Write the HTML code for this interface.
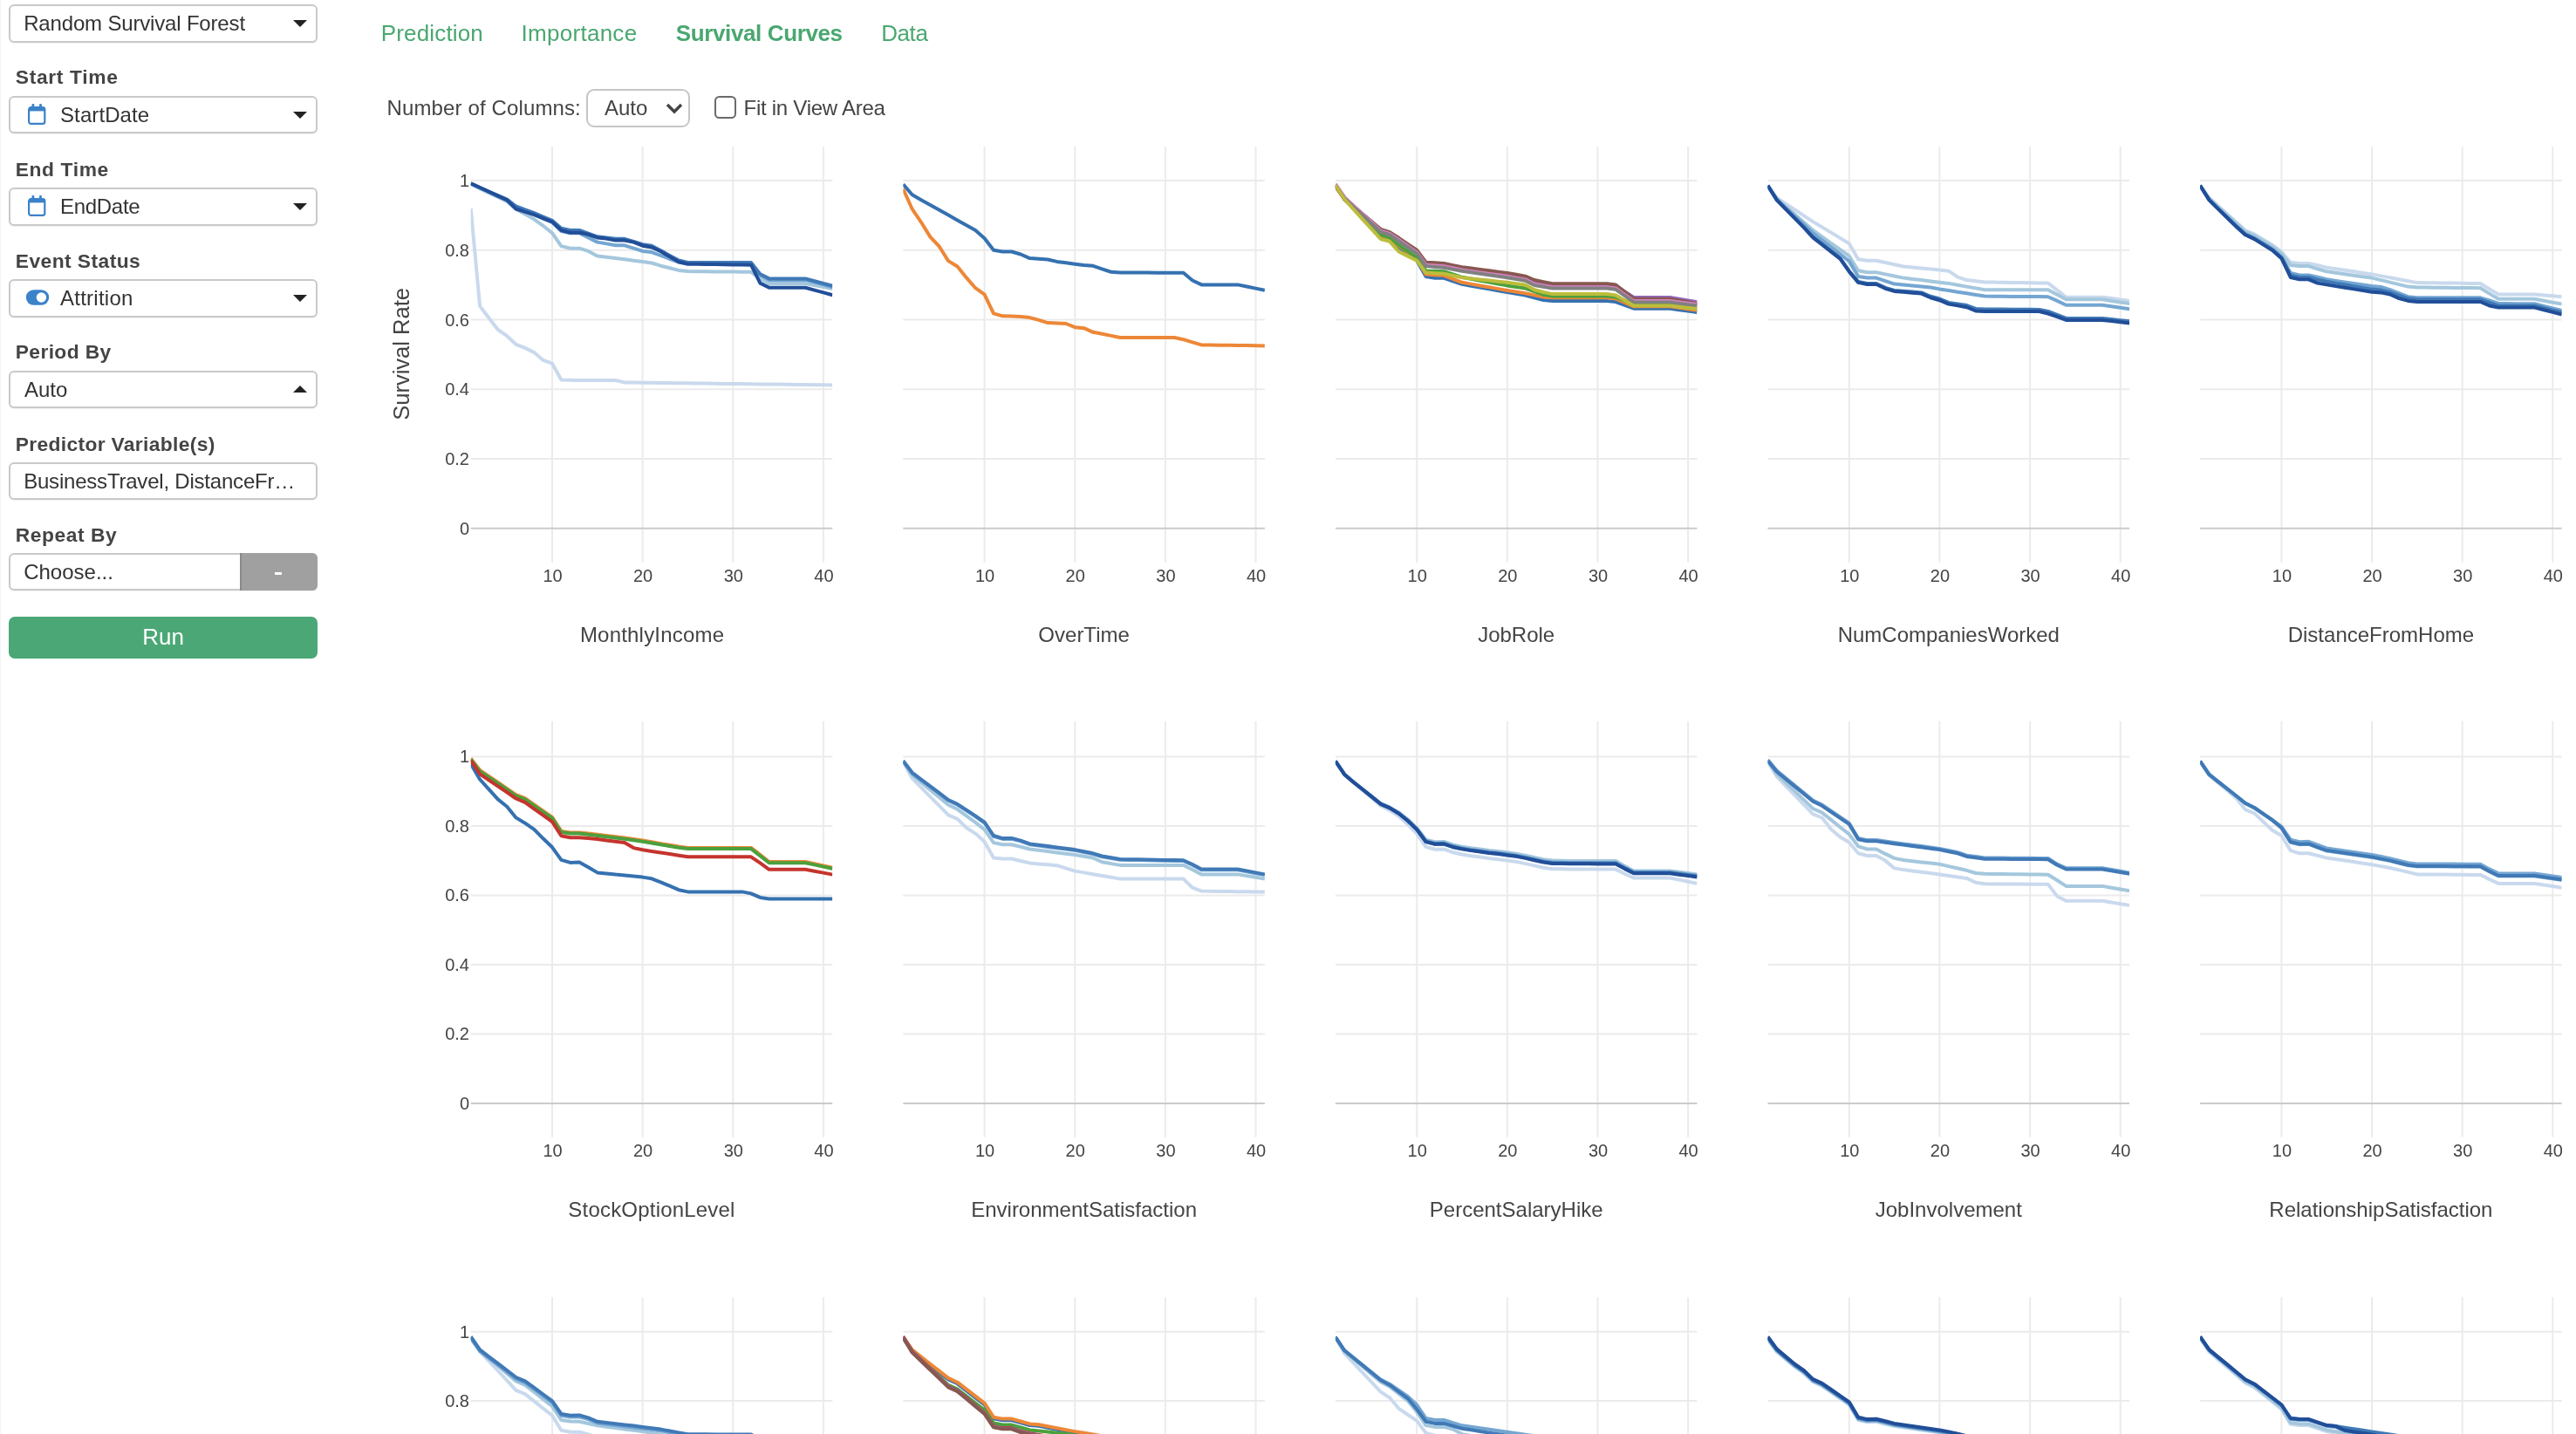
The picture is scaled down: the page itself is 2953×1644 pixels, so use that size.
<!DOCTYPE html>
<html>
<head>
<meta charset="utf-8">
<title>Survival Curves</title>
<style>
html,body{margin:0;padding:0;background:#fff;}
body{width:2953px;height:1644px;overflow:hidden;position:relative;font-family:"Liberation Sans",sans-serif;color:#444;}
.abs{position:absolute;}
#leftline{left:0;top:0;width:1px;height:1644px;background:#f3f3f3;}
.lbl{position:absolute;left:17.75px;font-size:22.8px;font-weight:bold;color:#444;line-height:28px;white-space:nowrap;letter-spacing:0px;}
.sel{position:absolute;left:10px;width:354px;height:43.4px;box-sizing:border-box;border:2px solid #c9c9c9;border-radius:6px;background:#fff;box-shadow:0 1px 1px rgba(0,0,0,0.06);}
.sel .t{position:absolute;top:-0.3px;line-height:39.4px;font-size:24px;color:#333;white-space:nowrap;}
.caret{position:absolute;right:10px;top:16px;width:0;height:0;border-left:8px solid transparent;border-right:8px solid transparent;border-top:8px solid #222;}
.caret.up{border-top:none;border-bottom:8px solid #222;top:15px;}
.tab{position:absolute;top:23px;font-size:26px;line-height:30px;color:#4aa770;white-space:nowrap;}
.ctl{position:absolute;font-size:24px;line-height:28px;color:#444;white-space:nowrap;}
#charts{position:absolute;left:0;top:0;}
#charts text{font-family:"Liberation Sans",sans-serif;fill:#444;}
#charts .tk{font-size:20px;}
#charts .xt{font-size:24px;}
#charts .yt{font-size:25.5px;}
</style>
</head>
<body>
<div id="root" style="position:absolute;left:0;top:0;width:2953px;height:1644px;will-change:transform;">
<div id="leftline" class="abs"></div>

<!-- sidebar -->
<div class="sel" style="top:5.2px;"><span class="t" style="left:15.2px;letter-spacing:-0.17px;">Random Survival Forest</span><span class="caret"></span></div>

<div class="lbl" style="top:74.4px;letter-spacing:0.68px;">Start Time</div>
<div class="sel" style="top:110px;">
  <svg class="abs" style="left:18.7px;top:5.8px;" width="24" height="26" viewBox="0 0 24 26"><rect x="2.1" y="5.2" width="18.2" height="18.7" rx="2.4" fill="none" stroke="#3b82c8" stroke-width="2.2"/><rect x="2.1" y="5.2" width="18.2" height="4.2" fill="#3b82c8"/><rect x="5.5" y="1" width="2.8" height="5" rx="1" fill="#3b82c8"/><rect x="14.1" y="1" width="2.8" height="5" rx="1" fill="#3b82c8"/></svg>
  <span class="t" style="left:57px;letter-spacing:0.1px;">StartDate</span><span class="caret"></span></div>

<div class="lbl" style="top:179.8px;letter-spacing:0.61px;">End Time</div>
<div class="sel" style="top:215.3px;">
  <svg class="abs" style="left:18.7px;top:5.8px;" width="24" height="26" viewBox="0 0 24 26"><rect x="2.1" y="5.2" width="18.2" height="18.7" rx="2.4" fill="none" stroke="#3b82c8" stroke-width="2.2"/><rect x="2.1" y="5.2" width="18.2" height="4.2" fill="#3b82c8"/><rect x="5.5" y="1" width="2.8" height="5" rx="1" fill="#3b82c8"/><rect x="14.1" y="1" width="2.8" height="5" rx="1" fill="#3b82c8"/></svg>
  <span class="t" style="left:57px;letter-spacing:-0.3px;">EndDate</span><span class="caret"></span></div>

<div class="lbl" style="top:284.9px;letter-spacing:0.45px;">Event Status</div>
<div class="sel" style="top:320.4px;">
  <svg class="abs" style="left:17px;top:8.5px;" width="30" height="20" viewBox="0 0 30 20"><rect x="0.8" y="1.2" width="26.4" height="17.6" rx="8.8" fill="#3b82c8"/><circle cx="18.4" cy="10" r="5.7" fill="#fff"/></svg>
  <span class="t" style="left:57px;letter-spacing:0.25px;">Attrition</span><span class="caret"></span></div>

<div class="lbl" style="top:389.3px;letter-spacing:0.38px;">Period By</div>
<div class="sel" style="top:425px;"><span class="t" style="left:16px;">Auto</span><span class="caret up"></span></div>

<div class="lbl" style="top:494.5px;letter-spacing:0.34px;">Predictor Variable(s)</div>
<div class="sel" style="top:530px;"><span class="t" style="left:15.2px;letter-spacing:-0.21px;">BusinessTravel, DistanceFr…</span></div>

<div class="lbl" style="top:598.5px;letter-spacing:0.56px;">Repeat By</div>
<div class="sel" style="top:634.1px;"><span class="t" style="left:15.2px;">Choose...</span>
  <div class="abs" style="right:-2px;top:-2px;width:89px;height:43.4px;box-sizing:border-box;background:#a0a0a0;border-left:2px solid #8a8a8a;border-radius:0 6px 6px 0;"><div class="abs" style="left:38.3px;top:21.8px;width:7.6px;height:2.7px;background:#fff;"></div></div></div>

<div class="abs" style="left:10px;top:707px;width:354px;height:48px;background:#4ba876;border-radius:7px;color:#fff;font-size:26px;line-height:47px;text-align:center;">Run</div>

<!-- tabs -->
<div class="tab" style="left:436.7px;letter-spacing:0.17px;">Prediction</div>
<div class="tab" style="left:597.6px;letter-spacing:0.27px;">Importance</div>
<div class="tab" style="left:774.8px;font-weight:bold;letter-spacing:-0.38px;">Survival Curves</div>
<div class="tab" style="left:1010.2px;letter-spacing:-0.4px;">Data</div>

<!-- controls -->
<div class="ctl" style="left:443.5px;top:110px;letter-spacing:0.13px;">Number of Columns:</div>
<div class="abs" style="left:672.4px;top:102.2px;width:118.7px;height:43.7px;box-sizing:border-box;border:2px solid #c6c6c6;border-radius:9px;background:#fff;">
  <span class="abs" style="left:18.5px;top:0.7px;font-size:24px;line-height:38px;color:#444;">Auto</span>
  <svg class="abs" style="left:87.7px;top:12px;" width="22" height="16" viewBox="0 0 22 16"><path d="M3 4 L11 12 L19 4" fill="none" stroke="#444" stroke-width="3.4"/></svg>
</div>
<div class="abs" style="left:818.7px;top:110.3px;width:25.3px;height:25.6px;box-sizing:border-box;border:2px solid #6a6a6a;border-radius:5.5px;background:#fff;"></div>
<div class="ctl" style="left:852.5px;top:110px;letter-spacing:-0.26px;">Fit in View Area</div>

<svg id="charts" width="2953" height="1644" viewBox="0 0 2953 1644"><defs><clipPath id="c0"><rect x="539.7" y="167.9" width="414.6" height="476.8"/></clipPath><clipPath id="c1"><rect x="1035.3" y="167.9" width="414.6" height="476.8"/></clipPath><clipPath id="c2"><rect x="1530.9" y="167.9" width="414.6" height="476.8"/></clipPath><clipPath id="c3"><rect x="2026.5" y="167.9" width="414.6" height="476.8"/></clipPath><clipPath id="c4"><rect x="2522.1" y="167.9" width="414.6" height="476.8"/></clipPath><clipPath id="c5"><rect x="539.7" y="827.0" width="414.6" height="476.8"/></clipPath><clipPath id="c6"><rect x="1035.3" y="827.0" width="414.6" height="476.8"/></clipPath><clipPath id="c7"><rect x="1530.9" y="827.0" width="414.6" height="476.8"/></clipPath><clipPath id="c8"><rect x="2026.5" y="827.0" width="414.6" height="476.8"/></clipPath><clipPath id="c9"><rect x="2522.1" y="827.0" width="414.6" height="476.8"/></clipPath><clipPath id="c10"><rect x="539.7" y="1487.2" width="414.6" height="476.8"/></clipPath><clipPath id="c11"><rect x="1035.3" y="1487.2" width="414.6" height="476.8"/></clipPath><clipPath id="c12"><rect x="1530.9" y="1487.2" width="414.6" height="476.8"/></clipPath><clipPath id="c13"><rect x="2026.5" y="1487.2" width="414.6" height="476.8"/></clipPath><clipPath id="c14"><rect x="2522.1" y="1487.2" width="414.6" height="476.8"/></clipPath></defs>
<path d="M633.0 167.9V644.7" stroke="#ebebeb" stroke-width="2"/>
<path d="M736.6 167.9V644.7" stroke="#ebebeb" stroke-width="2"/>
<path d="M840.3 167.9V644.7" stroke="#ebebeb" stroke-width="2"/>
<path d="M943.9 167.9V644.7" stroke="#ebebeb" stroke-width="2"/>
<path d="M539.7 207.0H954.3" stroke="#ebebeb" stroke-width="2"/>
<path d="M539.7 286.7H954.3" stroke="#ebebeb" stroke-width="2"/>
<path d="M539.7 366.5H954.3" stroke="#ebebeb" stroke-width="2"/>
<path d="M539.7 446.2H954.3" stroke="#ebebeb" stroke-width="2"/>
<path d="M539.7 525.9H954.3" stroke="#ebebeb" stroke-width="2"/>
<path d="M539.7 605.7H954.3" stroke="#cbcbcb" stroke-width="2"/>
<g clip-path="url(#c0)" fill="none" stroke-width="4" stroke-linejoin="round">
<path d="M539.7 238.9L550.1 350.9L560.4 364.5L570.8 378.0L581.2 385.2L591.5 394.8L601.9 398.9L612.3 404.1L622.6 412.9L633.0 416.7L643.4 435.5L653.7 435.8L664.1 435.9L674.4 435.9L684.8 436.0L695.2 436.0L705.5 436.0L715.9 438.4L726.3 438.6L736.6 438.7L747.0 438.8L757.4 438.9L767.7 439.1L778.1 439.2L788.5 439.3L798.8 439.5L809.2 439.6L819.6 439.7L829.9 439.9L840.3 440.0L850.7 440.1L861.0 440.2L871.4 440.4L881.7 440.5L892.1 440.6L902.5 440.8L912.8 440.9L923.2 441.0L933.6 441.2L943.9 441.3L954.3 441.4" stroke="#c9d9ed"/>
<path d="M539.7 211.0L550.1 216.2L560.4 221.1L570.8 226.0L581.2 230.9L591.5 239.8L601.9 245.6L612.3 251.3L622.6 258.8L633.0 267.2L643.4 282.1L653.7 284.7L664.1 284.7L674.4 287.9L684.8 293.6L695.2 294.7L705.5 295.9L715.9 297.3L726.3 298.7L736.6 300.1L747.0 301.5L757.4 304.7L767.7 307.3L778.1 309.9L788.5 311.1L798.8 311.2L809.2 311.3L819.6 311.4L829.9 311.5L840.3 311.6L850.7 311.7L861.0 311.8L871.4 319.4L881.7 325.0L892.1 325.0L902.5 325.0L912.8 325.0L923.2 325.0L933.6 327.0L943.9 329.0L954.3 331.0" stroke="#a4c7dd"/>
<path d="M539.7 210.6L550.1 215.4L560.4 220.2L570.8 224.9L581.2 229.7L591.5 238.5L601.9 242.1L612.3 245.7L622.6 250.3L633.0 254.8L643.4 265.0L653.7 267.2L664.1 267.2L674.4 272.4L684.8 277.6L695.2 279.4L705.5 281.3L715.9 281.3L726.3 284.6L736.6 287.9L747.0 289.1L757.4 293.0L767.7 296.8L778.1 300.7L788.5 302.0L798.8 302.0L809.2 302.0L819.6 302.0L829.9 302.0L840.3 302.0L850.7 302.0L861.0 302.0L871.4 315.2L881.7 320.9L892.1 320.9L902.5 320.9L912.8 320.9L923.2 320.9L933.6 323.6L943.9 326.4L954.3 329.2" stroke="#74a6d2"/>
<path d="M539.7 210.2L550.1 215.0L560.4 219.5L570.8 224.0L581.2 228.5L591.5 236.5L601.9 240.3L612.3 244.1L622.6 248.5L633.0 252.8L643.4 261.8L653.7 264.0L664.1 264.0L674.4 267.6L684.8 271.3L695.2 272.5L705.5 273.8L715.9 273.8L726.3 277.0L736.6 280.2L747.0 281.7L757.4 287.3L767.7 292.9L778.1 298.5L788.5 301.0L798.8 301.0L809.2 301.0L819.6 301.0L829.9 301.0L840.3 301.0L850.7 301.0L861.0 301.0L871.4 314.2L881.7 319.4L892.1 319.4L902.5 319.4L912.8 319.4L923.2 319.4L933.6 322.2L943.9 325.0L954.3 327.8" stroke="#4079b6"/>
<path d="M539.7 210.2L550.1 215.0L560.4 219.8L570.8 224.6L581.2 229.4L591.5 239.5L601.9 242.8L612.3 246.1L622.6 250.3L633.0 254.4L643.4 264.0L653.7 266.8L664.1 266.8L674.4 268.8L684.8 272.4L695.2 273.6L705.5 275.6L715.9 275.6L726.3 277.6L736.6 281.7L747.0 283.5L757.4 288.3L767.7 294.3L778.1 300.3L788.5 302.7L798.8 302.8L809.2 303.0L819.6 303.1L829.9 303.2L840.3 303.4L850.7 303.5L861.0 303.7L871.4 324.6L881.7 329.8L892.1 329.8L902.5 329.8L912.8 329.8L923.2 329.8L933.6 332.6L943.9 335.4L954.3 338.2" stroke="#214e98"/>
</g>
<text x="633.5" y="667.2" text-anchor="middle" class="tk">10</text>
<text x="737.1" y="667.2" text-anchor="middle" class="tk">20</text>
<text x="840.8" y="667.2" text-anchor="middle" class="tk">30</text>
<text x="944.4" y="667.2" text-anchor="middle" class="tk">40</text>
<text x="538.0" y="214.0" text-anchor="end" class="tk">1</text>
<text x="538.0" y="293.7" text-anchor="end" class="tk">0.8</text>
<text x="538.0" y="373.5" text-anchor="end" class="tk">0.6</text>
<text x="538.0" y="453.2" text-anchor="end" class="tk">0.4</text>
<text x="538.0" y="532.9" text-anchor="end" class="tk">0.2</text>
<text x="538.0" y="612.7" text-anchor="end" class="tk">0</text>
<text transform="translate(468.7 405.9) rotate(-90)" text-anchor="middle" class="yt">Survival Rate</text>
<text x="747.0" y="735.8" text-anchor="middle" class="xt" letter-spacing="0.2" dx="0.6">MonthlyIncome</text>
<path d="M1128.6 167.9V644.7" stroke="#ebebeb" stroke-width="2"/>
<path d="M1232.2 167.9V644.7" stroke="#ebebeb" stroke-width="2"/>
<path d="M1335.9 167.9V644.7" stroke="#ebebeb" stroke-width="2"/>
<path d="M1439.5 167.9V644.7" stroke="#ebebeb" stroke-width="2"/>
<path d="M1035.3 207.0H1449.9" stroke="#ebebeb" stroke-width="2"/>
<path d="M1035.3 286.7H1449.9" stroke="#ebebeb" stroke-width="2"/>
<path d="M1035.3 366.5H1449.9" stroke="#ebebeb" stroke-width="2"/>
<path d="M1035.3 446.2H1449.9" stroke="#ebebeb" stroke-width="2"/>
<path d="M1035.3 525.9H1449.9" stroke="#ebebeb" stroke-width="2"/>
<path d="M1035.3 605.7H1449.9" stroke="#cbcbcb" stroke-width="2"/>
<g clip-path="url(#c1)" fill="none" stroke-width="4" stroke-linejoin="round">
<path d="M1035.3 211.2L1045.7 223.3L1056.0 229.2L1066.4 235.0L1076.8 240.8L1087.1 246.6L1097.5 252.4L1107.9 258.2L1118.2 264.0L1128.6 273.2L1139.0 286.7L1149.3 288.5L1159.7 288.5L1170.0 291.5L1180.4 296.1L1190.8 296.8L1201.1 297.5L1211.5 299.9L1221.9 301.3L1232.2 302.7L1242.6 304.1L1253.0 304.8L1263.3 308.3L1273.7 311.8L1284.1 312.5L1294.4 312.5L1304.8 312.6L1315.2 312.6L1325.5 312.7L1335.9 312.7L1346.3 312.8L1356.6 312.8L1367.0 321.5L1377.3 326.4L1387.7 326.4L1398.1 326.4L1408.4 326.4L1418.8 326.4L1429.2 328.5L1439.5 330.6L1449.9 332.7" stroke="#3571b0"/>
<path d="M1035.3 216.6L1045.7 239.7L1056.0 254.8L1066.4 271.6L1076.8 282.7L1087.1 299.1L1097.5 305.5L1107.9 318.4L1118.2 330.2L1128.6 337.6L1139.0 359.3L1149.3 362.3L1159.7 362.6L1170.0 362.9L1180.4 364.1L1190.8 366.9L1201.1 370.1L1211.5 370.5L1221.9 371.0L1232.2 375.2L1242.6 376.2L1253.0 380.8L1263.3 382.8L1273.7 384.9L1284.1 387.0L1294.4 387.0L1304.8 387.0L1315.2 387.0L1325.5 387.0L1335.9 387.0L1346.3 387.0L1356.6 389.2L1367.0 392.4L1377.3 395.4L1387.7 395.5L1398.1 395.7L1408.4 395.8L1418.8 395.9L1429.2 396.1L1439.5 396.2L1449.9 396.4" stroke="#ed8737"/>
</g>
<text x="1129.1" y="667.2" text-anchor="middle" class="tk">10</text>
<text x="1232.7" y="667.2" text-anchor="middle" class="tk">20</text>
<text x="1336.4" y="667.2" text-anchor="middle" class="tk">30</text>
<text x="1440.0" y="667.2" text-anchor="middle" class="tk">40</text>
<text x="1242.6" y="735.8" text-anchor="middle" class="xt">OverTime</text>
<path d="M1624.2 167.9V644.7" stroke="#ebebeb" stroke-width="2"/>
<path d="M1727.8 167.9V644.7" stroke="#ebebeb" stroke-width="2"/>
<path d="M1831.5 167.9V644.7" stroke="#ebebeb" stroke-width="2"/>
<path d="M1935.1 167.9V644.7" stroke="#ebebeb" stroke-width="2"/>
<path d="M1530.9 207.0H1945.5" stroke="#ebebeb" stroke-width="2"/>
<path d="M1530.9 286.7H1945.5" stroke="#ebebeb" stroke-width="2"/>
<path d="M1530.9 366.5H1945.5" stroke="#ebebeb" stroke-width="2"/>
<path d="M1530.9 446.2H1945.5" stroke="#ebebeb" stroke-width="2"/>
<path d="M1530.9 525.9H1945.5" stroke="#ebebeb" stroke-width="2"/>
<path d="M1530.9 605.7H1945.5" stroke="#cbcbcb" stroke-width="2"/>
<g clip-path="url(#c2)" fill="none" stroke-width="4" stroke-linejoin="round">
<path d="M1530.9 212.3L1541.3 228.1L1551.6 238.8L1562.0 249.5L1572.4 260.1L1582.7 270.8L1593.1 274.4L1603.5 283.5L1613.8 291.1L1624.2 298.7L1634.6 317.0L1644.9 318.8L1655.3 318.8L1665.6 322.4L1676.0 325.9L1686.4 327.7L1696.7 329.5L1707.1 331.3L1717.5 333.2L1727.8 335.0L1738.2 336.8L1748.6 338.6L1758.9 341.3L1769.3 344.1L1779.7 344.9L1790.0 344.9L1800.4 344.9L1810.8 344.9L1821.1 344.9L1831.5 344.9L1841.9 344.9L1852.2 346.1L1862.6 349.9L1872.9 353.7L1883.3 353.7L1893.7 353.7L1904.0 353.7L1914.4 353.7L1924.8 355.2L1935.1 356.6L1945.5 358.1" stroke="#3571b0"/>
<path d="M1530.9 212.3L1541.3 228.1L1551.6 238.5L1562.0 248.9L1572.4 259.2L1582.7 269.6L1593.1 273.2L1603.5 281.9L1613.8 289.5L1624.2 297.1L1634.6 314.6L1644.9 315.2L1655.3 315.8L1665.6 319.8L1676.0 323.8L1686.4 325.6L1696.7 327.5L1707.1 329.3L1717.5 331.1L1727.8 333.0L1738.2 334.6L1748.6 336.2L1758.9 338.4L1769.3 340.6L1779.7 341.3L1790.0 341.3L1800.4 341.3L1810.8 341.3L1821.1 341.3L1831.5 341.3L1841.9 341.3L1852.2 342.5L1862.6 346.9L1872.9 351.3L1883.3 351.3L1893.7 351.3L1904.0 351.3L1914.4 351.3L1924.8 352.8L1935.1 354.2L1945.5 355.7" stroke="#ed8737"/>
<path d="M1530.9 212.3L1541.3 228.1L1551.6 238.3L1562.0 248.5L1572.4 258.6L1582.7 268.8L1593.1 272.4L1603.5 280.8L1613.8 288.1L1624.2 295.5L1634.6 310.5L1644.9 310.8L1655.3 311.2L1665.6 314.5L1676.0 317.8L1686.4 319.7L1696.7 321.7L1707.1 323.6L1717.5 325.5L1727.8 327.4L1738.2 329.0L1748.6 330.6L1758.9 334.2L1769.3 337.8L1779.7 339.4L1790.0 339.4L1800.4 339.4L1810.8 339.4L1821.1 339.4L1831.5 339.4L1841.9 339.4L1852.2 340.6L1862.6 344.9L1872.9 349.3L1883.3 349.3L1893.7 349.3L1904.0 349.3L1914.4 349.3L1924.8 350.7L1935.1 352.0L1945.5 353.3" stroke="#4ba03c"/>
<path d="M1530.9 213.5L1541.3 228.7L1551.6 237.5L1562.0 246.4L1572.4 255.2L1582.7 264.0L1593.1 267.4L1603.5 274.0L1613.8 281.0L1624.2 287.9L1634.6 301.9L1644.9 302.5L1655.3 303.1L1665.6 305.3L1676.0 307.5L1686.4 308.8L1696.7 310.2L1707.1 311.5L1717.5 312.9L1727.8 314.2L1738.2 316.0L1748.6 317.8L1758.9 322.2L1769.3 324.3L1779.7 326.4L1790.0 326.4L1800.4 326.4L1810.8 326.4L1821.1 326.4L1831.5 326.4L1841.9 326.4L1852.2 327.8L1862.6 335.8L1872.9 343.9L1883.3 343.9L1893.7 343.9L1904.0 343.9L1914.4 343.9L1924.8 345.7L1935.1 347.5L1945.5 349.3" stroke="#c5342d"/>
<path d="M1530.9 212.3L1541.3 227.5L1551.6 236.6L1562.0 245.6L1572.4 254.6L1582.7 263.6L1593.1 266.8L1603.5 274.0L1613.8 281.0L1624.2 287.9L1634.6 302.3L1644.9 302.9L1655.3 303.5L1665.6 305.5L1676.0 307.5L1686.4 308.8L1696.7 310.2L1707.1 311.5L1717.5 312.9L1727.8 314.2L1738.2 316.0L1748.6 317.8L1758.9 322.6L1769.3 324.8L1779.7 327.0L1790.0 327.0L1800.4 327.0L1810.8 327.0L1821.1 327.0L1831.5 327.0L1841.9 327.0L1852.2 327.8L1862.6 334.4L1872.9 340.9L1883.3 340.9L1893.7 340.9L1904.0 340.9L1914.4 340.9L1924.8 342.7L1935.1 344.4L1945.5 346.1" stroke="#9467bd"/>
<path d="M1530.9 212.3L1541.3 227.5L1551.6 236.4L1562.0 245.2L1572.4 254.0L1582.7 262.8L1593.1 266.2L1603.5 272.8L1613.8 279.8L1624.2 286.7L1634.6 300.7L1644.9 301.3L1655.3 301.9L1665.6 304.1L1676.0 306.3L1686.4 307.6L1696.7 309.0L1707.1 310.3L1717.5 311.7L1727.8 313.0L1738.2 314.8L1748.6 316.6L1758.9 321.0L1769.3 323.1L1779.7 325.2L1790.0 325.2L1800.4 325.2L1810.8 325.2L1821.1 325.2L1831.5 325.2L1841.9 325.2L1852.2 326.6L1862.6 334.7L1872.9 342.7L1883.3 342.7L1893.7 342.7L1904.0 342.7L1914.4 342.7L1924.8 344.5L1935.1 346.3L1945.5 348.1" stroke="#87584f"/>
<path d="M1530.9 210.9L1541.3 226.1L1551.6 235.8L1562.0 245.4L1572.4 255.0L1582.7 264.6L1593.1 267.8L1603.5 275.0L1613.8 282.1L1624.2 289.3L1634.6 303.7L1644.9 304.5L1655.3 305.3L1665.6 307.3L1676.0 309.4L1686.4 310.9L1696.7 312.4L1707.1 313.9L1717.5 315.3L1727.8 316.8L1738.2 318.6L1748.6 320.4L1758.9 325.6L1769.3 327.4L1779.7 329.2L1790.0 329.2L1800.4 329.2L1810.8 329.2L1821.1 329.2L1831.5 329.2L1841.9 329.2L1852.2 330.4L1862.6 337.8L1872.9 345.1L1883.3 345.1L1893.7 345.1L1904.0 345.1L1914.4 345.1L1924.8 346.5L1935.1 347.8L1945.5 349.1" stroke="#db82c4"/>
<path d="M1530.9 212.3L1541.3 227.5L1551.6 237.1L1562.0 246.8L1572.4 256.4L1582.7 266.0L1593.1 269.2L1603.5 276.4L1613.8 283.5L1624.2 290.7L1634.6 305.1L1644.9 305.9L1655.3 306.7L1665.6 308.7L1676.0 310.8L1686.4 312.3L1696.7 313.8L1707.1 315.3L1717.5 316.7L1727.8 318.2L1738.2 320.0L1748.6 321.8L1758.9 327.0L1769.3 328.8L1779.7 330.6L1790.0 330.6L1800.4 330.6L1810.8 330.6L1821.1 330.6L1831.5 330.6L1841.9 330.6L1852.2 331.8L1862.6 339.2L1872.9 346.5L1883.3 346.5L1893.7 346.5L1904.0 346.5L1914.4 346.5L1924.8 347.9L1935.1 349.2L1945.5 350.5" stroke="#808080"/>
<path d="M1530.9 212.3L1541.3 228.5L1551.6 239.9L1562.0 251.3L1572.4 262.6L1582.7 274.0L1593.1 276.8L1603.5 288.5L1613.8 293.6L1624.2 298.7L1634.6 312.6L1644.9 313.2L1655.3 313.8L1665.6 316.0L1676.0 318.2L1686.4 319.3L1696.7 320.5L1707.1 321.6L1717.5 322.7L1727.8 323.8L1738.2 325.2L1748.6 326.6L1758.9 332.2L1769.3 335.0L1779.7 337.1L1790.0 337.1L1800.4 337.1L1810.8 337.1L1821.1 337.1L1831.5 337.1L1841.9 337.1L1852.2 338.6L1862.6 344.5L1872.9 350.5L1883.3 350.5L1893.7 350.5L1904.0 350.5L1914.4 350.5L1924.8 351.7L1935.1 352.9L1945.5 354.1" stroke="#bcbd3c"/>
</g>
<text x="1624.7" y="667.2" text-anchor="middle" class="tk">10</text>
<text x="1728.3" y="667.2" text-anchor="middle" class="tk">20</text>
<text x="1832.0" y="667.2" text-anchor="middle" class="tk">30</text>
<text x="1935.6" y="667.2" text-anchor="middle" class="tk">40</text>
<text x="1738.2" y="735.8" text-anchor="middle" class="xt">JobRole</text>
<path d="M2119.8 167.9V644.7" stroke="#ebebeb" stroke-width="2"/>
<path d="M2223.4 167.9V644.7" stroke="#ebebeb" stroke-width="2"/>
<path d="M2327.1 167.9V644.7" stroke="#ebebeb" stroke-width="2"/>
<path d="M2430.7 167.9V644.7" stroke="#ebebeb" stroke-width="2"/>
<path d="M2026.5 207.0H2441.1" stroke="#ebebeb" stroke-width="2"/>
<path d="M2026.5 286.7H2441.1" stroke="#ebebeb" stroke-width="2"/>
<path d="M2026.5 366.5H2441.1" stroke="#ebebeb" stroke-width="2"/>
<path d="M2026.5 446.2H2441.1" stroke="#ebebeb" stroke-width="2"/>
<path d="M2026.5 525.9H2441.1" stroke="#ebebeb" stroke-width="2"/>
<path d="M2026.5 605.7H2441.1" stroke="#cbcbcb" stroke-width="2"/>
<g clip-path="url(#c3)" fill="none" stroke-width="4" stroke-linejoin="round">
<path d="M2026.5 212.7L2036.9 226.9L2047.2 233.7L2057.6 240.5L2068.0 247.3L2078.3 254.1L2088.7 260.4L2099.1 266.6L2109.4 272.9L2119.8 279.2L2130.2 297.2L2140.5 298.7L2150.9 298.7L2161.2 301.0L2171.6 303.2L2182.0 305.5L2192.3 306.5L2202.7 307.5L2213.1 308.6L2223.4 309.6L2233.8 310.7L2244.2 317.6L2254.5 321.1L2264.9 322.3L2275.3 323.4L2285.6 323.6L2296.0 323.8L2306.4 323.9L2316.7 324.1L2327.1 324.3L2337.5 324.4L2347.8 324.6L2358.2 332.6L2368.5 340.7L2378.9 340.7L2389.3 340.7L2399.6 340.7L2410.0 340.7L2420.4 342.1L2430.7 343.5L2441.1 344.9" stroke="#c9d9ed"/>
<path d="M2026.5 212.7L2036.9 228.1L2047.2 237.1L2057.6 246.1L2068.0 255.0L2078.3 264.0L2088.7 271.4L2099.1 278.8L2109.4 286.1L2119.8 293.5L2130.2 310.3L2140.5 312.3L2150.9 312.3L2161.2 314.4L2171.6 316.5L2182.0 318.6L2192.3 319.9L2202.7 321.1L2213.1 322.4L2223.4 323.7L2233.8 324.9L2244.2 326.8L2254.5 328.6L2264.9 330.4L2275.3 332.3L2285.6 332.3L2296.0 332.3L2306.4 332.3L2316.7 332.3L2327.1 332.3L2337.5 332.3L2347.8 332.3L2358.2 337.8L2368.5 343.3L2378.9 343.3L2389.3 343.3L2399.6 343.3L2410.0 343.3L2420.4 344.9L2430.7 346.5L2441.1 348.0" stroke="#a4c7dd"/>
<path d="M2026.5 212.7L2036.9 228.5L2047.2 238.2L2057.6 247.9L2068.0 257.5L2078.3 267.2L2088.7 275.3L2099.1 283.3L2109.4 291.4L2119.8 299.5L2130.2 317.0L2140.5 318.6L2150.9 318.6L2161.2 322.1L2171.6 325.6L2182.0 326.6L2192.3 327.6L2202.7 328.6L2213.1 329.5L2223.4 331.4L2233.8 333.0L2244.2 334.7L2254.5 336.3L2264.9 338.0L2275.3 339.6L2285.6 339.7L2296.0 339.8L2306.4 339.9L2316.7 340.0L2327.1 340.0L2337.5 340.1L2347.8 340.2L2358.2 344.9L2368.5 349.7L2378.9 349.7L2389.3 349.7L2399.6 349.7L2410.0 349.7L2420.4 351.2L2430.7 352.8L2441.1 354.3" stroke="#74a6d2"/>
<path d="M2026.5 212.7L2036.9 229.4L2047.2 239.9L2057.6 250.4L2068.0 260.9L2078.3 271.6L2088.7 279.7L2099.1 287.8L2109.4 295.9L2119.8 310.7L2130.2 323.0L2140.5 325.0L2150.9 325.0L2161.2 329.8L2171.6 333.0L2182.0 333.8L2192.3 334.6L2202.7 335.4L2213.1 339.8L2223.4 342.5L2233.8 346.9L2244.2 348.5L2254.5 350.1L2264.9 353.9L2275.3 354.5L2285.6 354.6L2296.0 354.6L2306.4 354.7L2316.7 354.8L2327.1 354.8L2337.5 354.9L2347.8 356.9L2358.2 360.9L2368.5 364.9L2378.9 364.9L2389.3 364.9L2399.6 364.9L2410.0 364.9L2420.4 366.0L2430.7 367.2L2441.1 368.3" stroke="#4079b6"/>
<path d="M2026.5 212.7L2036.9 229.4L2047.2 239.9L2057.6 250.4L2068.0 260.9L2078.3 272.4L2088.7 280.5L2099.1 288.6L2109.4 296.7L2119.8 311.4L2130.2 323.9L2140.5 326.0L2150.9 326.0L2161.2 330.8L2171.6 333.9L2182.0 334.8L2192.3 335.7L2202.7 336.6L2213.1 341.3L2223.4 344.2L2233.8 348.6L2244.2 350.4L2254.5 352.2L2264.9 356.5L2275.3 357.0L2285.6 357.0L2296.0 357.0L2306.4 357.0L2316.7 357.0L2327.1 357.0L2337.5 357.0L2347.8 359.5L2358.2 363.2L2368.5 366.9L2378.9 366.9L2389.3 366.9L2399.6 366.9L2410.0 366.9L2420.4 368.1L2430.7 369.3L2441.1 370.5" stroke="#214e98"/>
</g>
<text x="2120.3" y="667.2" text-anchor="middle" class="tk">10</text>
<text x="2223.9" y="667.2" text-anchor="middle" class="tk">20</text>
<text x="2327.6" y="667.2" text-anchor="middle" class="tk">30</text>
<text x="2431.2" y="667.2" text-anchor="middle" class="tk">40</text>
<text x="2233.8" y="735.8" text-anchor="middle" class="xt">NumCompaniesWorked</text>
<path d="M2615.4 167.9V644.7" stroke="#ebebeb" stroke-width="2"/>
<path d="M2719.0 167.9V644.7" stroke="#ebebeb" stroke-width="2"/>
<path d="M2822.7 167.9V644.7" stroke="#ebebeb" stroke-width="2"/>
<path d="M2926.3 167.9V644.7" stroke="#ebebeb" stroke-width="2"/>
<path d="M2522.1 207.0H2936.7" stroke="#ebebeb" stroke-width="2"/>
<path d="M2522.1 286.7H2936.7" stroke="#ebebeb" stroke-width="2"/>
<path d="M2522.1 366.5H2936.7" stroke="#ebebeb" stroke-width="2"/>
<path d="M2522.1 446.2H2936.7" stroke="#ebebeb" stroke-width="2"/>
<path d="M2522.1 525.9H2936.7" stroke="#ebebeb" stroke-width="2"/>
<path d="M2522.1 605.7H2936.7" stroke="#cbcbcb" stroke-width="2"/>
<g clip-path="url(#c4)" fill="none" stroke-width="4" stroke-linejoin="round">
<path d="M2522.1 212.7L2532.5 226.9L2542.8 236.2L2553.2 245.5L2563.6 254.8L2573.9 264.0L2584.3 268.4L2594.7 274.6L2605.0 280.8L2615.4 288.7L2625.8 300.8L2636.1 301.9L2646.5 301.9L2656.8 304.3L2667.2 306.7L2677.6 308.2L2687.9 309.8L2698.3 311.3L2708.7 312.9L2719.0 314.4L2729.4 316.4L2739.8 318.3L2750.1 320.2L2760.5 322.2L2770.9 324.1L2781.2 324.2L2791.6 324.3L2802.0 324.5L2812.3 324.6L2822.7 324.7L2833.1 324.9L2843.4 325.0L2853.8 331.4L2864.1 337.5L2874.5 337.5L2884.9 337.5L2895.2 337.5L2905.6 337.5L2916.0 338.4L2926.3 339.3L2936.7 340.2" stroke="#c9d9ed"/>
<path d="M2522.1 212.7L2532.5 227.3L2542.8 236.9L2553.2 246.5L2563.6 256.0L2573.9 265.6L2584.3 270.0L2594.7 276.4L2605.0 282.7L2615.4 290.7L2625.8 304.0L2636.1 305.1L2646.5 305.1L2656.8 308.3L2667.2 311.3L2677.6 312.8L2687.9 314.2L2698.3 315.7L2708.7 317.2L2719.0 318.6L2729.4 321.1L2739.8 323.6L2750.1 326.1L2760.5 328.6L2770.9 329.5L2781.2 329.6L2791.6 329.7L2802.0 329.8L2812.3 329.9L2822.7 330.0L2833.1 330.1L2843.4 330.2L2853.8 336.6L2864.1 342.7L2874.5 342.7L2884.9 342.7L2895.2 342.7L2905.6 342.7L2916.0 344.7L2926.3 346.7L2936.7 348.6" stroke="#a4c7dd"/>
<path d="M2522.1 212.7L2532.5 228.9L2542.8 238.9L2553.2 248.9L2563.6 258.8L2573.9 268.0L2584.3 272.8L2594.7 279.2L2605.0 285.5L2615.4 294.3L2625.8 313.0L2636.1 315.4L2646.5 315.4L2656.8 317.8L2667.2 320.3L2677.6 321.9L2687.9 323.4L2698.3 325.0L2708.7 326.5L2719.0 328.1L2729.4 329.0L2739.8 332.2L2750.1 336.2L2760.5 340.2L2770.9 341.3L2781.2 341.3L2791.6 341.3L2802.0 341.3L2812.3 341.3L2822.7 341.3L2833.1 341.3L2843.4 341.3L2853.8 344.5L2864.1 348.0L2874.5 348.1L2884.9 348.2L2895.2 348.2L2905.6 348.3L2916.0 350.9L2926.3 353.4L2936.7 356.0" stroke="#74a6d2"/>
<path d="M2522.1 212.7L2532.5 229.3L2542.8 239.4L2553.2 249.5L2563.6 259.6L2573.9 268.8L2584.3 273.6L2594.7 280.0L2605.0 286.3L2615.4 295.5L2625.8 315.4L2636.1 317.8L2646.5 317.8L2656.8 320.6L2667.2 322.8L2677.6 324.6L2687.9 326.3L2698.3 328.1L2708.7 329.9L2719.0 331.6L2729.4 332.6L2739.8 335.0L2750.1 338.6L2760.5 342.1L2770.9 343.3L2781.2 343.3L2791.6 343.3L2802.0 343.3L2812.3 343.3L2822.7 343.3L2833.1 343.3L2843.4 343.3L2853.8 346.9L2864.1 350.5L2874.5 350.5L2884.9 350.5L2895.2 350.5L2905.6 350.5L2916.0 353.0L2926.3 355.6L2936.7 358.1" stroke="#4079b6"/>
<path d="M2522.1 212.7L2532.5 229.4L2542.8 239.6L2553.2 249.7L2563.6 259.9L2573.9 269.3L2584.3 274.1L2594.7 280.6L2605.0 287.1L2615.4 296.2L2625.8 318.0L2636.1 320.3L2646.5 320.3L2656.8 324.6L2667.2 326.4L2677.6 328.1L2687.9 329.7L2698.3 331.4L2708.7 333.1L2719.0 334.8L2729.4 335.4L2739.8 337.5L2750.1 342.1L2760.5 344.9L2770.9 345.9L2781.2 345.9L2791.6 345.9L2802.0 345.9L2812.3 345.9L2822.7 345.9L2833.1 345.9L2843.4 345.9L2853.8 350.5L2864.1 352.6L2874.5 352.6L2884.9 352.6L2895.2 352.6L2905.6 352.6L2916.0 355.3L2926.3 357.9L2936.7 360.6" stroke="#214e98"/>
</g>
<text x="2615.9" y="667.2" text-anchor="middle" class="tk">10</text>
<text x="2719.5" y="667.2" text-anchor="middle" class="tk">20</text>
<text x="2823.2" y="667.2" text-anchor="middle" class="tk">30</text>
<text x="2926.8" y="667.2" text-anchor="middle" class="tk">40</text>
<text x="2729.4" y="735.8" text-anchor="middle" class="xt">DistanceFromHome</text>
<path d="M633.0 827.0V1303.8" stroke="#ebebeb" stroke-width="2"/>
<path d="M736.6 827.0V1303.8" stroke="#ebebeb" stroke-width="2"/>
<path d="M840.3 827.0V1303.8" stroke="#ebebeb" stroke-width="2"/>
<path d="M943.9 827.0V1303.8" stroke="#ebebeb" stroke-width="2"/>
<path d="M539.7 867.4H954.3" stroke="#ebebeb" stroke-width="2"/>
<path d="M539.7 946.9H954.3" stroke="#ebebeb" stroke-width="2"/>
<path d="M539.7 1026.4H954.3" stroke="#ebebeb" stroke-width="2"/>
<path d="M539.7 1105.9H954.3" stroke="#ebebeb" stroke-width="2"/>
<path d="M539.7 1185.4H954.3" stroke="#ebebeb" stroke-width="2"/>
<path d="M539.7 1264.9H954.3" stroke="#cbcbcb" stroke-width="2"/>
<g clip-path="url(#c5)" fill="none" stroke-width="4" stroke-linejoin="round">
<path d="M539.7 875.7L550.1 893.5L560.4 904.9L570.8 916.4L581.2 924.8L591.5 937.4L601.9 943.7L612.3 950.9L622.6 961.3L633.0 971.3L643.4 985.9L653.7 988.9L664.1 988.4L674.4 994.2L684.8 1000.4L695.2 1001.4L705.5 1002.6L715.9 1003.5L726.3 1004.5L736.6 1005.6L747.0 1007.3L757.4 1011.4L767.7 1015.7L778.1 1020.2L788.5 1022.4L798.8 1022.4L809.2 1022.4L819.6 1022.4L829.9 1022.4L840.3 1022.4L850.7 1022.4L861.0 1024.4L871.4 1028.9L881.7 1030.4L892.1 1030.4L902.5 1030.4L912.8 1030.4L923.2 1030.4L933.6 1030.4L943.9 1030.4L954.3 1030.4" stroke="#3571b0"/>
<path d="M539.7 869.4L550.1 882.9L560.4 889.9L570.8 897.0L581.2 904.1L591.5 911.1L601.9 915.2L612.3 922.4L622.6 929.6L633.0 936.8L643.4 952.9L653.7 954.4L664.1 954.4L674.4 955.6L684.8 956.8L695.2 958.1L705.5 959.3L715.9 960.5L726.3 962.1L736.6 963.6L747.0 965.3L757.4 967.1L767.7 968.8L778.1 970.5L788.5 971.9L798.8 971.9L809.2 971.9L819.6 971.9L829.9 971.9L840.3 971.9L850.7 971.9L861.0 971.9L871.4 979.9L881.7 988.0L892.1 988.0L902.5 988.0L912.8 988.0L923.2 988.0L933.6 990.2L943.9 992.4L954.3 994.6" stroke="#ed8737"/>
<path d="M539.7 870.6L550.1 884.1L560.4 891.1L570.8 898.2L581.2 905.2L591.5 912.3L601.9 916.4L612.3 923.6L622.6 930.8L633.0 937.9L643.4 954.0L653.7 955.6L664.1 955.6L674.4 956.8L684.8 958.0L695.2 959.3L705.5 960.5L715.9 961.7L726.3 963.3L736.6 964.8L747.0 966.5L757.4 968.3L767.7 970.0L778.1 971.7L788.5 973.1L798.8 973.1L809.2 973.1L819.6 973.1L829.9 973.1L840.3 973.1L850.7 973.1L861.0 973.1L871.4 981.1L881.7 989.2L892.1 989.2L902.5 989.2L912.8 989.2L923.2 989.2L933.6 991.4L943.9 993.6L954.3 995.8" stroke="#4ba03c"/>
<path d="M539.7 871.8L550.1 887.3L560.4 894.3L570.8 901.4L581.2 908.4L591.5 915.5L601.9 919.9L612.3 927.3L622.6 934.7L633.0 942.1L643.4 958.2L653.7 960.3L664.1 960.3L674.4 961.1L684.8 962.0L695.2 963.4L705.5 964.7L715.9 966.1L726.3 972.1L736.6 974.3L747.0 975.9L757.4 977.5L767.7 979.1L778.1 980.7L788.5 982.3L798.8 982.3L809.2 982.3L819.6 982.3L829.9 982.3L840.3 982.3L850.7 982.3L861.0 982.3L871.4 989.4L881.7 996.8L892.1 996.8L902.5 996.8L912.8 996.8L923.2 996.8L933.6 998.7L943.9 1000.6L954.3 1002.6" stroke="#c5342d"/>
</g>
<text x="633.5" y="1326.3" text-anchor="middle" class="tk">10</text>
<text x="737.1" y="1326.3" text-anchor="middle" class="tk">20</text>
<text x="840.8" y="1326.3" text-anchor="middle" class="tk">30</text>
<text x="944.4" y="1326.3" text-anchor="middle" class="tk">40</text>
<text x="538.0" y="874.4" text-anchor="end" class="tk">1</text>
<text x="538.0" y="953.9" text-anchor="end" class="tk">0.8</text>
<text x="538.0" y="1033.4" text-anchor="end" class="tk">0.6</text>
<text x="538.0" y="1112.9" text-anchor="end" class="tk">0.4</text>
<text x="538.0" y="1192.4" text-anchor="end" class="tk">0.2</text>
<text x="538.0" y="1271.9" text-anchor="end" class="tk">0</text>
<text x="747.0" y="1394.9" text-anchor="middle" class="xt" letter-spacing="0.2">StockOptionLevel</text>
<path d="M1128.6 827.0V1303.8" stroke="#ebebeb" stroke-width="2"/>
<path d="M1232.2 827.0V1303.8" stroke="#ebebeb" stroke-width="2"/>
<path d="M1335.9 827.0V1303.8" stroke="#ebebeb" stroke-width="2"/>
<path d="M1439.5 827.0V1303.8" stroke="#ebebeb" stroke-width="2"/>
<path d="M1035.3 867.4H1449.9" stroke="#ebebeb" stroke-width="2"/>
<path d="M1035.3 946.9H1449.9" stroke="#ebebeb" stroke-width="2"/>
<path d="M1035.3 1026.4H1449.9" stroke="#ebebeb" stroke-width="2"/>
<path d="M1035.3 1105.9H1449.9" stroke="#ebebeb" stroke-width="2"/>
<path d="M1035.3 1185.4H1449.9" stroke="#ebebeb" stroke-width="2"/>
<path d="M1035.3 1264.9H1449.9" stroke="#cbcbcb" stroke-width="2"/>
<g clip-path="url(#c6)" fill="none" stroke-width="4" stroke-linejoin="round">
<path d="M1035.3 873.3L1045.7 892.4L1056.0 902.9L1066.4 913.4L1076.8 923.9L1087.1 934.3L1097.5 938.9L1107.9 949.0L1118.2 955.6L1128.6 965.1L1139.0 983.5L1149.3 984.5L1159.7 984.5L1170.0 987.0L1180.4 989.4L1190.8 990.4L1201.1 991.3L1211.5 992.2L1221.9 995.4L1232.2 998.6L1242.6 1000.4L1253.0 1002.2L1263.3 1004.0L1273.7 1005.8L1284.1 1007.6L1294.4 1007.6L1304.8 1007.6L1315.2 1007.6L1325.5 1007.6L1335.9 1007.6L1346.3 1007.6L1356.6 1007.6L1367.0 1017.7L1377.3 1021.6L1387.7 1021.8L1398.1 1021.9L1408.4 1022.1L1418.8 1022.2L1429.2 1022.3L1439.5 1022.5L1449.9 1022.6" stroke="#c9d9ed"/>
<path d="M1035.3 872.5L1045.7 888.5L1056.0 897.0L1066.4 905.6L1076.8 914.2L1087.1 922.8L1097.5 927.8L1107.9 935.4L1118.2 942.9L1128.6 951.1L1139.0 966.1L1149.3 968.2L1159.7 968.2L1170.0 970.7L1180.4 973.5L1190.8 974.8L1201.1 976.1L1211.5 977.4L1221.9 978.7L1232.2 980.0L1242.6 981.7L1253.0 983.5L1263.3 988.2L1273.7 990.1L1284.1 991.9L1294.4 991.9L1304.8 991.9L1315.2 991.9L1325.5 991.9L1335.9 991.9L1346.3 991.9L1356.6 991.9L1367.0 997.0L1377.3 1002.4L1387.7 1002.4L1398.1 1002.4L1408.4 1002.4L1418.8 1002.4L1429.2 1004.1L1439.5 1005.8L1449.9 1007.6" stroke="#a4c7dd"/>
<path d="M1035.3 872.9L1045.7 886.6L1056.0 894.4L1066.4 902.2L1076.8 910.0L1087.1 917.8L1097.5 922.6L1107.9 929.4L1118.2 936.2L1128.6 943.5L1139.0 958.8L1149.3 961.9L1159.7 961.7L1170.0 964.4L1180.4 968.2L1190.8 969.5L1201.1 970.9L1211.5 972.2L1221.9 973.5L1232.2 974.9L1242.6 977.0L1253.0 979.1L1263.3 982.3L1273.7 984.0L1284.1 985.8L1294.4 986.0L1304.8 986.1L1315.2 986.3L1325.5 986.5L1335.9 986.7L1346.3 986.9L1356.6 987.0L1367.0 991.8L1377.3 997.3L1387.7 997.3L1398.1 997.3L1408.4 997.3L1418.8 997.3L1429.2 999.2L1439.5 1001.2L1449.9 1003.1" stroke="#74a6d2"/>
<path d="M1035.3 872.2L1045.7 885.8L1056.0 893.6L1066.4 901.4L1076.8 909.2L1087.1 917.0L1097.5 921.8L1107.9 928.6L1118.2 935.4L1128.6 942.7L1139.0 958.0L1149.3 961.1L1159.7 960.9L1170.0 963.6L1180.4 967.4L1190.8 968.7L1201.1 970.1L1211.5 971.4L1221.9 972.7L1232.2 974.1L1242.6 976.2L1253.0 978.3L1263.3 981.5L1273.7 983.2L1284.1 985.0L1294.4 985.2L1304.8 985.3L1315.2 985.5L1325.5 985.7L1335.9 985.9L1346.3 986.1L1356.6 986.3L1367.0 991.0L1377.3 996.5L1387.7 996.5L1398.1 996.5L1408.4 996.5L1418.8 996.5L1429.2 998.4L1439.5 1000.4L1449.9 1002.4" stroke="#4079b6"/>
</g>
<text x="1129.1" y="1326.3" text-anchor="middle" class="tk">10</text>
<text x="1232.7" y="1326.3" text-anchor="middle" class="tk">20</text>
<text x="1336.4" y="1326.3" text-anchor="middle" class="tk">30</text>
<text x="1440.0" y="1326.3" text-anchor="middle" class="tk">40</text>
<text x="1242.6" y="1394.9" text-anchor="middle" class="xt">EnvironmentSatisfaction</text>
<path d="M1624.2 827.0V1303.8" stroke="#ebebeb" stroke-width="2"/>
<path d="M1727.8 827.0V1303.8" stroke="#ebebeb" stroke-width="2"/>
<path d="M1831.5 827.0V1303.8" stroke="#ebebeb" stroke-width="2"/>
<path d="M1935.1 827.0V1303.8" stroke="#ebebeb" stroke-width="2"/>
<path d="M1530.9 867.4H1945.5" stroke="#ebebeb" stroke-width="2"/>
<path d="M1530.9 946.9H1945.5" stroke="#ebebeb" stroke-width="2"/>
<path d="M1530.9 1026.4H1945.5" stroke="#ebebeb" stroke-width="2"/>
<path d="M1530.9 1105.9H1945.5" stroke="#ebebeb" stroke-width="2"/>
<path d="M1530.9 1185.4H1945.5" stroke="#ebebeb" stroke-width="2"/>
<path d="M1530.9 1264.9H1945.5" stroke="#cbcbcb" stroke-width="2"/>
<g clip-path="url(#c7)" fill="none" stroke-width="4" stroke-linejoin="round">
<path d="M1530.9 872.6L1541.3 888.1L1551.6 897.1L1562.0 905.9L1572.4 914.8L1582.7 923.8L1593.1 928.9L1603.5 935.8L1613.8 944.9L1624.2 955.8L1634.6 970.9L1644.9 973.7L1655.3 973.5L1665.6 977.2L1676.0 979.5L1686.4 981.2L1696.7 982.5L1707.1 984.0L1717.5 985.2L1727.8 986.5L1738.2 987.9L1748.6 990.1L1758.9 992.4L1769.3 994.7L1779.7 996.2L1790.0 996.3L1800.4 996.4L1810.8 996.5L1821.1 996.5L1831.5 996.6L1841.9 996.6L1852.2 996.6L1862.6 1001.8L1872.9 1006.5L1883.3 1006.5L1893.7 1006.5L1904.0 1006.5L1914.4 1006.5L1924.8 1008.6L1935.1 1010.8L1945.5 1012.9" stroke="#c9d9ed"/>
<path d="M1530.9 872.6L1541.3 887.8L1551.6 896.5L1562.0 904.7L1572.4 912.9L1582.7 921.1L1593.1 925.4L1603.5 931.4L1613.8 939.5L1624.2 949.1L1634.6 962.6L1644.9 965.2L1655.3 965.0L1665.6 968.5L1676.0 970.7L1686.4 972.3L1696.7 973.5L1707.1 975.0L1717.5 976.1L1727.8 977.3L1738.2 978.8L1748.6 980.8L1758.9 983.0L1769.3 985.2L1779.7 986.6L1790.0 986.8L1800.4 986.9L1810.8 986.9L1821.1 987.0L1831.5 987.0L1841.9 987.0L1852.2 987.0L1862.6 993.0L1872.9 998.6L1883.3 998.6L1893.7 998.6L1904.0 998.6L1914.4 998.6L1924.8 999.8L1935.1 1001.1L1945.5 1002.4" stroke="#a4c7dd"/>
<path d="M1530.9 872.6L1541.3 887.9L1551.6 896.6L1562.0 904.9L1572.4 913.2L1582.7 921.4L1593.1 926.0L1603.5 932.1L1613.8 940.4L1624.2 950.2L1634.6 964.0L1644.9 966.7L1655.3 966.5L1665.6 970.0L1676.0 972.3L1686.4 973.9L1696.7 975.2L1707.1 976.7L1717.5 977.8L1727.8 979.1L1738.2 980.6L1748.6 982.6L1758.9 984.9L1769.3 987.2L1779.7 988.6L1790.0 988.8L1800.4 988.9L1810.8 988.9L1821.1 989.0L1831.5 989.0L1841.9 989.0L1852.2 989.0L1862.6 994.6L1872.9 999.8L1883.3 999.8L1893.7 999.8L1904.0 999.8L1914.4 999.8L1924.8 1001.1L1935.1 1002.4L1945.5 1003.7" stroke="#74a6d2"/>
<path d="M1530.9 872.6L1541.3 887.9L1551.6 896.7L1562.0 905.0L1572.4 913.3L1582.7 921.6L1593.1 926.2L1603.5 932.5L1613.8 940.8L1624.2 950.8L1634.6 964.8L1644.9 967.5L1655.3 967.3L1665.6 970.8L1676.0 973.1L1686.4 974.7L1696.7 976.0L1707.1 977.5L1717.5 978.6L1727.8 979.9L1738.2 981.4L1748.6 983.4L1758.9 985.7L1769.3 988.0L1779.7 989.4L1790.0 989.6L1800.4 989.7L1810.8 989.7L1821.1 989.8L1831.5 989.8L1841.9 989.8L1852.2 989.8L1862.6 995.4L1872.9 1000.6L1883.3 1000.6L1893.7 1000.6L1904.0 1000.6L1914.4 1000.6L1924.8 1001.9L1935.1 1003.2L1945.5 1004.5" stroke="#4079b6"/>
<path d="M1530.9 872.6L1541.3 887.9L1551.6 896.7L1562.0 905.0L1572.4 913.4L1582.7 921.8L1593.1 926.4L1603.5 932.7L1613.8 941.0L1624.2 951.1L1634.6 965.1L1644.9 967.8L1655.3 967.6L1665.6 971.2L1676.0 973.4L1686.4 975.1L1696.7 976.4L1707.1 977.9L1717.5 979.1L1727.8 980.4L1738.2 981.8L1748.6 983.9L1758.9 986.3L1769.3 988.5L1779.7 990.0L1790.0 990.1L1800.4 990.2L1810.8 990.3L1821.1 990.3L1831.5 990.4L1841.9 990.4L1852.2 990.4L1862.6 996.1L1872.9 1001.3L1883.3 1001.3L1893.7 1001.3L1904.0 1001.3L1914.4 1001.3L1924.8 1002.7L1935.1 1004.1L1945.5 1005.5" stroke="#214e98"/>
</g>
<text x="1624.7" y="1326.3" text-anchor="middle" class="tk">10</text>
<text x="1728.3" y="1326.3" text-anchor="middle" class="tk">20</text>
<text x="1832.0" y="1326.3" text-anchor="middle" class="tk">30</text>
<text x="1935.6" y="1326.3" text-anchor="middle" class="tk">40</text>
<text x="1738.2" y="1394.9" text-anchor="middle" class="xt">PercentSalaryHike</text>
<path d="M2119.8 827.0V1303.8" stroke="#ebebeb" stroke-width="2"/>
<path d="M2223.4 827.0V1303.8" stroke="#ebebeb" stroke-width="2"/>
<path d="M2327.1 827.0V1303.8" stroke="#ebebeb" stroke-width="2"/>
<path d="M2430.7 827.0V1303.8" stroke="#ebebeb" stroke-width="2"/>
<path d="M2026.5 867.4H2441.1" stroke="#ebebeb" stroke-width="2"/>
<path d="M2026.5 946.9H2441.1" stroke="#ebebeb" stroke-width="2"/>
<path d="M2026.5 1026.4H2441.1" stroke="#ebebeb" stroke-width="2"/>
<path d="M2026.5 1105.9H2441.1" stroke="#ebebeb" stroke-width="2"/>
<path d="M2026.5 1185.4H2441.1" stroke="#ebebeb" stroke-width="2"/>
<path d="M2026.5 1264.9H2441.1" stroke="#cbcbcb" stroke-width="2"/>
<g clip-path="url(#c8)" fill="none" stroke-width="4" stroke-linejoin="round">
<path d="M2026.5 873.3L2036.9 890.4L2047.2 901.2L2057.6 911.9L2068.0 922.6L2078.3 933.4L2088.7 937.5L2099.1 950.7L2109.4 959.5L2119.8 965.7L2130.2 978.3L2140.5 981.0L2150.9 981.0L2161.2 986.6L2171.6 995.4L2182.0 997.1L2192.3 998.4L2202.7 999.7L2213.1 1001.0L2223.4 1002.4L2233.8 1003.9L2244.2 1005.4L2254.5 1006.9L2264.9 1011.8L2275.3 1013.3L2285.6 1013.4L2296.0 1013.4L2306.4 1013.5L2316.7 1013.6L2327.1 1013.7L2337.5 1013.8L2347.8 1013.8L2358.2 1027.4L2368.5 1032.8L2378.9 1032.8L2389.3 1032.8L2399.6 1032.8L2410.0 1032.8L2420.4 1034.5L2430.7 1036.2L2441.1 1037.9" stroke="#c9d9ed"/>
<path d="M2026.5 872.5L2036.9 887.3L2047.2 897.2L2057.6 907.1L2068.0 917.1L2078.3 927.0L2088.7 931.6L2099.1 939.9L2109.4 948.2L2119.8 956.4L2130.2 970.3L2140.5 973.5L2150.9 973.5L2161.2 978.9L2171.6 983.9L2182.0 986.0L2192.3 987.2L2202.7 988.4L2213.1 989.6L2223.4 990.8L2233.8 993.1L2244.2 995.5L2254.5 997.8L2264.9 1001.0L2275.3 1001.8L2285.6 1001.9L2296.0 1002.0L2306.4 1002.2L2316.7 1002.3L2327.1 1002.5L2337.5 1002.6L2347.8 1002.7L2358.2 1009.3L2368.5 1015.9L2378.9 1015.9L2389.3 1015.9L2399.6 1015.9L2410.0 1015.9L2420.4 1017.7L2430.7 1019.5L2441.1 1021.2" stroke="#a4c7dd"/>
<path d="M2026.5 871.0L2036.9 883.6L2047.2 892.0L2057.6 900.5L2068.0 909.0L2078.3 917.5L2088.7 922.6L2099.1 929.7L2109.4 936.7L2119.8 943.7L2130.2 961.0L2140.5 963.1L2150.9 963.1L2161.2 964.5L2171.6 966.0L2182.0 967.4L2192.3 968.7L2202.7 970.1L2213.1 971.5L2223.4 972.9L2233.8 975.0L2244.2 977.1L2254.5 980.7L2264.9 982.1L2275.3 983.5L2285.6 983.5L2296.0 983.6L2306.4 983.7L2316.7 983.8L2327.1 983.8L2337.5 983.9L2347.8 984.0L2358.2 990.6L2368.5 995.3L2378.9 995.3L2389.3 995.3L2399.6 995.3L2410.0 995.3L2420.4 997.0L2430.7 998.8L2441.1 1000.6" stroke="#74a6d2"/>
<path d="M2026.5 872.2L2036.9 884.8L2047.2 893.2L2057.6 901.7L2068.0 910.2L2078.3 918.7L2088.7 923.8L2099.1 930.9L2109.4 937.9L2119.8 944.9L2130.2 962.2L2140.5 964.3L2150.9 964.3L2161.2 965.7L2171.6 967.2L2182.0 968.6L2192.3 969.9L2202.7 971.3L2213.1 972.7L2223.4 974.1L2233.8 976.2L2244.2 978.3L2254.5 981.9L2264.9 983.3L2275.3 984.7L2285.6 984.7L2296.0 984.8L2306.4 984.9L2316.7 985.0L2327.1 985.0L2337.5 985.1L2347.8 985.2L2358.2 991.8L2368.5 996.5L2378.9 996.5L2389.3 996.5L2399.6 996.5L2410.0 996.5L2420.4 998.2L2430.7 1000.0L2441.1 1001.8" stroke="#4079b6"/>
</g>
<text x="2120.3" y="1326.3" text-anchor="middle" class="tk">10</text>
<text x="2223.9" y="1326.3" text-anchor="middle" class="tk">20</text>
<text x="2327.6" y="1326.3" text-anchor="middle" class="tk">30</text>
<text x="2431.2" y="1326.3" text-anchor="middle" class="tk">40</text>
<text x="2233.8" y="1394.9" text-anchor="middle" class="xt">JobInvolvement</text>
<path d="M2615.4 827.0V1303.8" stroke="#ebebeb" stroke-width="2"/>
<path d="M2719.0 827.0V1303.8" stroke="#ebebeb" stroke-width="2"/>
<path d="M2822.7 827.0V1303.8" stroke="#ebebeb" stroke-width="2"/>
<path d="M2926.3 827.0V1303.8" stroke="#ebebeb" stroke-width="2"/>
<path d="M2522.1 867.4H2936.7" stroke="#ebebeb" stroke-width="2"/>
<path d="M2522.1 946.9H2936.7" stroke="#ebebeb" stroke-width="2"/>
<path d="M2522.1 1026.4H2936.7" stroke="#ebebeb" stroke-width="2"/>
<path d="M2522.1 1105.9H2936.7" stroke="#ebebeb" stroke-width="2"/>
<path d="M2522.1 1185.4H2936.7" stroke="#ebebeb" stroke-width="2"/>
<path d="M2522.1 1264.9H2936.7" stroke="#cbcbcb" stroke-width="2"/>
<g clip-path="url(#c9)" fill="none" stroke-width="4" stroke-linejoin="round">
<path d="M2522.1 872.6L2532.5 888.8L2542.8 897.6L2553.2 906.3L2563.6 915.1L2573.9 928.2L2584.3 932.4L2594.7 942.2L2605.0 952.1L2615.4 958.0L2625.8 975.1L2636.1 978.3L2646.5 978.3L2656.8 980.9L2667.2 983.5L2677.6 985.0L2687.9 986.6L2698.3 988.1L2708.7 989.7L2719.0 991.3L2729.4 993.1L2739.8 995.0L2750.1 997.4L2760.5 999.9L2770.9 1002.4L2781.2 1002.4L2791.6 1002.5L2802.0 1002.6L2812.3 1002.7L2822.7 1002.8L2833.1 1002.9L2843.4 1002.9L2853.8 1008.1L2864.1 1012.9L2874.5 1012.9L2884.9 1012.9L2895.2 1012.9L2905.6 1012.9L2916.0 1014.5L2926.3 1016.1L2936.7 1017.7" stroke="#c9d9ed"/>
<path d="M2522.1 873.0L2532.5 888.3L2542.8 896.5L2553.2 904.7L2563.6 912.9L2573.9 921.1L2584.3 926.4L2594.7 933.5L2605.0 940.6L2615.4 949.4L2625.8 965.7L2636.1 968.2L2646.5 967.8L2656.8 971.7L2667.2 975.5L2677.6 977.0L2687.9 978.5L2698.3 979.9L2708.7 981.4L2719.0 982.9L2729.4 985.0L2739.8 987.0L2750.1 989.6L2760.5 992.2L2770.9 993.4L2781.2 993.5L2791.6 993.5L2802.0 993.5L2812.3 993.6L2822.7 993.6L2833.1 993.7L2843.4 993.7L2853.8 999.4L2864.1 1004.4L2874.5 1004.4L2884.9 1004.4L2895.2 1004.4L2905.6 1004.4L2916.0 1005.9L2926.3 1007.4L2936.7 1008.9" stroke="#a4c7dd"/>
<path d="M2522.1 872.6L2532.5 887.9L2542.8 896.1L2553.2 904.3L2563.6 912.5L2573.9 920.7L2584.3 926.0L2594.7 933.1L2605.0 940.2L2615.4 947.7L2625.8 962.7L2636.1 965.2L2646.5 964.8L2656.8 968.7L2667.2 972.5L2677.6 974.0L2687.9 975.5L2698.3 976.9L2708.7 978.4L2719.0 979.9L2729.4 982.0L2739.8 984.1L2750.1 986.6L2760.5 989.2L2770.9 990.4L2781.2 990.5L2791.6 990.5L2802.0 990.6L2812.3 990.6L2822.7 990.7L2833.1 990.7L2843.4 990.7L2853.8 996.4L2864.1 1001.4L2874.5 1001.4L2884.9 1001.4L2895.2 1001.4L2905.6 1001.4L2916.0 1002.9L2926.3 1004.4L2936.7 1005.9" stroke="#74a6d2"/>
<path d="M2522.1 872.6L2532.5 887.9L2542.8 896.1L2553.2 904.3L2563.6 912.5L2573.9 920.7L2584.3 926.0L2594.7 933.1L2605.0 940.2L2615.4 949.0L2625.8 965.3L2636.1 967.8L2646.5 967.4L2656.8 971.3L2667.2 975.1L2677.6 976.6L2687.9 978.1L2698.3 979.5L2708.7 981.0L2719.0 982.5L2729.4 984.6L2739.8 986.6L2750.1 989.2L2760.5 991.8L2770.9 993.0L2781.2 993.1L2791.6 993.1L2802.0 993.1L2812.3 993.2L2822.7 993.2L2833.1 993.3L2843.4 993.3L2853.8 999.0L2864.1 1004.0L2874.5 1004.0L2884.9 1004.0L2895.2 1004.0L2905.6 1004.0L2916.0 1005.5L2926.3 1007.0L2936.7 1008.5" stroke="#4079b6"/>
</g>
<text x="2615.9" y="1326.3" text-anchor="middle" class="tk">10</text>
<text x="2719.5" y="1326.3" text-anchor="middle" class="tk">20</text>
<text x="2823.2" y="1326.3" text-anchor="middle" class="tk">30</text>
<text x="2926.8" y="1326.3" text-anchor="middle" class="tk">40</text>
<text x="2729.4" y="1394.9" text-anchor="middle" class="xt">RelationshipSatisfaction</text>
<path d="M633.0 1487.2V1964.0" stroke="#ebebeb" stroke-width="2"/>
<path d="M736.6 1487.2V1964.0" stroke="#ebebeb" stroke-width="2"/>
<path d="M840.3 1487.2V1964.0" stroke="#ebebeb" stroke-width="2"/>
<path d="M943.9 1487.2V1964.0" stroke="#ebebeb" stroke-width="2"/>
<path d="M539.7 1526.8H954.3" stroke="#ebebeb" stroke-width="2"/>
<path d="M539.7 1606.1H954.3" stroke="#ebebeb" stroke-width="2"/>
<path d="M539.7 1685.5H954.3" stroke="#ebebeb" stroke-width="2"/>
<path d="M539.7 1764.8H954.3" stroke="#ebebeb" stroke-width="2"/>
<path d="M539.7 1844.2H954.3" stroke="#ebebeb" stroke-width="2"/>
<path d="M539.7 1923.5H954.3" stroke="#cbcbcb" stroke-width="2"/>
<g clip-path="url(#c10)" fill="none" stroke-width="4" stroke-linejoin="round">
<path d="M539.7 1532.5L550.1 1549.2L560.4 1560.3L570.8 1571.5L581.2 1582.6L591.5 1593.8L601.9 1598.2L612.3 1606.4L622.6 1614.6L633.0 1622.8L643.4 1639.8L653.7 1641.8L664.1 1641.8L674.4 1644.5L684.8 1647.8L695.2 1649.2L705.5 1650.7L715.9 1652.1L726.3 1653.6L736.6 1655.0L747.0 1656.5L757.4 1657.9L767.7 1659.4L778.1 1660.8L788.5 1662.3L798.8 1663.7L809.2 1665.2L819.6 1666.6L829.9 1668.1L840.3 1669.5L850.7 1671.0L861.0 1672.4L871.4 1673.9L881.7 1675.3L892.1 1676.8L902.5 1678.2L912.8 1679.7L923.2 1681.1L933.6 1682.6L943.9 1684.0L954.3 1685.5" stroke="#c9d9ed"/>
<path d="M539.7 1532.5L550.1 1548.2L560.4 1557.0L570.8 1565.8L581.2 1574.7L591.5 1583.5L601.9 1587.9L612.3 1596.0L622.6 1604.1L633.0 1612.3L643.4 1627.9L653.7 1629.5L664.1 1629.7L674.4 1632.0L684.8 1634.3L695.2 1635.7L705.5 1637.0L715.9 1638.4L726.3 1639.8L736.6 1641.1L747.0 1642.9L757.4 1644.6L767.7 1646.3L778.1 1648.0L788.5 1649.8L798.8 1650.8L809.2 1651.7L819.6 1652.7L829.9 1653.7L840.3 1654.7L850.7 1655.7L861.0 1656.7L871.4 1657.7L881.7 1658.7L892.1 1659.7L902.5 1660.7L912.8 1661.7L923.2 1662.7L933.6 1663.6L943.9 1664.6L954.3 1665.6" stroke="#a4c7dd"/>
<path d="M539.7 1534.3L550.1 1549.2L560.4 1557.1L570.8 1565.0L581.2 1572.9L591.5 1580.8L601.9 1585.1L612.3 1592.7L622.6 1600.3L633.0 1607.9L643.4 1622.8L653.7 1624.6L664.1 1624.2L674.4 1627.1L684.8 1631.5L695.2 1632.8L705.5 1634.0L715.9 1635.2L726.3 1636.4L736.6 1637.7L747.0 1639.0L757.4 1640.4L767.7 1642.3L778.1 1644.1L788.5 1646.0L798.8 1646.0L809.2 1646.1L819.6 1646.2L829.9 1646.2L840.3 1646.3L850.7 1646.3L861.0 1646.4L871.4 1651.7L881.7 1657.1L892.1 1658.0L902.5 1658.9L912.8 1659.8L923.2 1660.7L933.6 1661.6L943.9 1662.5L954.3 1663.4" stroke="#74a6d2"/>
<path d="M539.7 1532.5L550.1 1547.4L560.4 1555.3L570.8 1563.2L581.2 1571.1L591.5 1579.0L601.9 1583.3L612.3 1590.9L622.6 1598.5L633.0 1606.1L643.4 1621.0L653.7 1622.8L664.1 1622.4L674.4 1625.4L684.8 1629.8L695.2 1631.0L705.5 1632.2L715.9 1633.4L726.3 1634.6L736.6 1635.9L747.0 1637.3L757.4 1638.6L767.7 1640.5L778.1 1642.4L788.5 1644.2L798.8 1644.3L809.2 1644.3L819.6 1644.4L829.9 1644.4L840.3 1644.5L850.7 1644.5L861.0 1644.6L871.4 1650.0L881.7 1655.3L892.1 1656.2L902.5 1657.1L912.8 1658.0L923.2 1658.9L933.6 1659.8L943.9 1660.8L954.3 1661.7" stroke="#4079b6"/>
</g>
<text x="633.5" y="1986.5" text-anchor="middle" class="tk">10</text>
<text x="737.1" y="1986.5" text-anchor="middle" class="tk">20</text>
<text x="840.8" y="1986.5" text-anchor="middle" class="tk">30</text>
<text x="944.4" y="1986.5" text-anchor="middle" class="tk">40</text>
<text x="538.0" y="1533.8" text-anchor="end" class="tk">1</text>
<text x="538.0" y="1613.1" text-anchor="end" class="tk">0.8</text>
<text x="538.0" y="1692.5" text-anchor="end" class="tk">0.6</text>
<text x="538.0" y="1771.8" text-anchor="end" class="tk">0.4</text>
<text x="538.0" y="1851.2" text-anchor="end" class="tk">0.2</text>
<text x="538.0" y="1930.5" text-anchor="end" class="tk">0</text>
<path d="M1128.6 1487.2V1964.0" stroke="#ebebeb" stroke-width="2"/>
<path d="M1232.2 1487.2V1964.0" stroke="#ebebeb" stroke-width="2"/>
<path d="M1335.9 1487.2V1964.0" stroke="#ebebeb" stroke-width="2"/>
<path d="M1439.5 1487.2V1964.0" stroke="#ebebeb" stroke-width="2"/>
<path d="M1035.3 1526.8H1449.9" stroke="#ebebeb" stroke-width="2"/>
<path d="M1035.3 1606.1H1449.9" stroke="#ebebeb" stroke-width="2"/>
<path d="M1035.3 1685.5H1449.9" stroke="#ebebeb" stroke-width="2"/>
<path d="M1035.3 1764.8H1449.9" stroke="#ebebeb" stroke-width="2"/>
<path d="M1035.3 1844.2H1449.9" stroke="#ebebeb" stroke-width="2"/>
<path d="M1035.3 1923.5H1449.9" stroke="#cbcbcb" stroke-width="2"/>
<g clip-path="url(#c11)" fill="none" stroke-width="4" stroke-linejoin="round">
<path d="M1035.3 1534.1L1045.7 1549.0L1056.0 1557.1L1066.4 1565.2L1076.8 1573.4L1087.1 1581.5L1097.5 1586.3L1107.9 1594.3L1118.2 1602.3L1128.6 1610.3L1139.0 1626.4L1149.3 1628.2L1159.7 1628.2L1170.0 1631.1L1180.4 1634.0L1190.8 1634.8L1201.1 1636.8L1211.5 1638.8L1221.9 1640.8L1232.2 1642.7L1242.6 1644.4L1253.0 1646.1L1263.3 1647.8L1273.7 1649.6L1284.1 1651.3L1294.4 1652.3L1304.8 1653.3L1315.2 1654.3L1325.5 1655.3L1335.9 1656.3L1346.3 1657.3L1356.6 1658.3L1367.0 1659.3L1377.3 1660.3L1387.7 1661.3L1398.1 1662.3L1408.4 1663.2L1418.8 1664.2L1429.2 1665.2L1439.5 1666.2L1449.9 1667.2" stroke="#3571b0"/>
<path d="M1035.3 1532.5L1045.7 1547.4L1056.0 1555.5L1066.4 1563.7L1076.8 1571.8L1087.1 1579.9L1097.5 1584.7L1107.9 1592.7L1118.2 1600.7L1128.6 1608.7L1139.0 1624.8L1149.3 1626.6L1159.7 1626.6L1170.0 1629.5L1180.4 1632.4L1190.8 1633.3L1201.1 1635.2L1211.5 1637.2L1221.9 1639.2L1232.2 1641.1L1242.6 1642.8L1253.0 1644.5L1263.3 1646.2L1273.7 1648.0L1284.1 1649.8L1294.4 1650.8L1304.8 1651.7L1315.2 1652.7L1325.5 1653.7L1335.9 1654.7L1346.3 1655.7L1356.6 1656.7L1367.0 1657.7L1377.3 1658.7L1387.7 1659.7L1398.1 1660.7L1408.4 1661.7L1418.8 1662.7L1429.2 1663.6L1439.5 1664.6L1449.9 1665.6" stroke="#ed8737"/>
<path d="M1035.3 1532.5L1045.7 1549.4L1056.0 1559.0L1066.4 1568.6L1076.8 1578.2L1087.1 1587.9L1097.5 1592.6L1107.9 1600.6L1118.2 1608.6L1128.6 1616.6L1139.0 1631.5L1149.3 1633.5L1159.7 1633.6L1170.0 1636.5L1180.4 1639.4L1190.8 1640.5L1201.1 1641.6L1211.5 1642.7L1221.9 1643.8L1232.2 1645.5L1242.6 1647.1L1253.0 1648.8L1263.3 1650.4L1273.7 1652.1L1284.1 1653.7L1294.4 1654.7L1304.8 1655.7L1315.2 1656.7L1325.5 1657.7L1335.9 1658.7L1346.3 1659.7L1356.6 1660.7L1367.0 1661.7L1377.3 1662.7L1387.7 1663.6L1398.1 1664.6L1408.4 1665.6L1418.8 1666.6L1429.2 1667.6L1439.5 1668.6L1449.9 1669.6" stroke="#4ba03c"/>
<path d="M1035.3 1532.3L1045.7 1549.4L1056.0 1559.3L1066.4 1569.3L1076.8 1579.2L1087.1 1589.2L1097.5 1594.0L1107.9 1602.6L1118.2 1611.2L1128.6 1619.8L1139.0 1635.2L1149.3 1637.1L1159.7 1637.1L1170.0 1640.8L1180.4 1643.3L1190.8 1645.0L1201.1 1646.7L1211.5 1648.4L1221.9 1650.2L1232.2 1651.9L1242.6 1653.6L1253.0 1655.3L1263.3 1657.0L1273.7 1658.8L1284.1 1660.5L1294.4 1661.5L1304.8 1662.5L1315.2 1663.4L1325.5 1664.4L1335.9 1665.4L1346.3 1666.4L1356.6 1667.4L1367.0 1668.4L1377.3 1669.4L1387.7 1670.4L1398.1 1671.4L1408.4 1672.4L1418.8 1673.4L1429.2 1674.4L1439.5 1675.4L1449.9 1676.3" stroke="#c5342d"/>
<path d="M1035.3 1532.9L1045.7 1550.0L1056.0 1559.9L1066.4 1569.9L1076.8 1579.8L1087.1 1589.8L1097.5 1594.6L1107.9 1603.2L1118.2 1611.8L1128.6 1620.4L1139.0 1635.8L1149.3 1637.7L1159.7 1637.7L1170.0 1641.4L1180.4 1643.9L1190.8 1645.6L1201.1 1647.3L1211.5 1649.0L1221.9 1650.8L1232.2 1652.5L1242.6 1654.2L1253.0 1655.9L1263.3 1657.6L1273.7 1659.3L1284.1 1661.1L1294.4 1662.1L1304.8 1663.1L1315.2 1664.0L1325.5 1665.0L1335.9 1666.0L1346.3 1667.0L1356.6 1668.0L1367.0 1669.0L1377.3 1670.0L1387.7 1671.0L1398.1 1672.0L1408.4 1673.0L1418.8 1674.0L1429.2 1675.0L1439.5 1675.9L1449.9 1676.9" stroke="#9467bd"/>
<path d="M1035.3 1533.5L1045.7 1550.6L1056.0 1560.5L1066.4 1570.5L1076.8 1580.4L1087.1 1590.4L1097.5 1595.2L1107.9 1603.8L1118.2 1612.4L1128.6 1621.0L1139.0 1636.4L1149.3 1638.3L1159.7 1638.3L1170.0 1642.0L1180.4 1644.5L1190.8 1646.2L1201.1 1647.9L1211.5 1649.6L1221.9 1651.4L1232.2 1653.1L1242.6 1654.8L1253.0 1656.5L1263.3 1658.2L1273.7 1659.9L1284.1 1661.7L1294.4 1662.7L1304.8 1663.6L1315.2 1664.6L1325.5 1665.6L1335.9 1666.6L1346.3 1667.6L1356.6 1668.6L1367.0 1669.6L1377.3 1670.6L1387.7 1671.6L1398.1 1672.6L1408.4 1673.6L1418.8 1674.6L1429.2 1675.5L1439.5 1676.5L1449.9 1677.5" stroke="#87584f"/>
</g>
<text x="1129.1" y="1986.5" text-anchor="middle" class="tk">10</text>
<text x="1232.7" y="1986.5" text-anchor="middle" class="tk">20</text>
<text x="1336.4" y="1986.5" text-anchor="middle" class="tk">30</text>
<text x="1440.0" y="1986.5" text-anchor="middle" class="tk">40</text>
<path d="M1624.2 1487.2V1964.0" stroke="#ebebeb" stroke-width="2"/>
<path d="M1727.8 1487.2V1964.0" stroke="#ebebeb" stroke-width="2"/>
<path d="M1831.5 1487.2V1964.0" stroke="#ebebeb" stroke-width="2"/>
<path d="M1935.1 1487.2V1964.0" stroke="#ebebeb" stroke-width="2"/>
<path d="M1530.9 1526.8H1945.5" stroke="#ebebeb" stroke-width="2"/>
<path d="M1530.9 1606.1H1945.5" stroke="#ebebeb" stroke-width="2"/>
<path d="M1530.9 1685.5H1945.5" stroke="#ebebeb" stroke-width="2"/>
<path d="M1530.9 1764.8H1945.5" stroke="#ebebeb" stroke-width="2"/>
<path d="M1530.9 1844.2H1945.5" stroke="#ebebeb" stroke-width="2"/>
<path d="M1530.9 1923.5H1945.5" stroke="#cbcbcb" stroke-width="2"/>
<g clip-path="url(#c12)" fill="none" stroke-width="4" stroke-linejoin="round">
<path d="M1530.9 1532.9L1541.3 1551.7L1551.6 1562.7L1562.0 1573.7L1572.4 1584.6L1582.7 1595.6L1593.1 1602.5L1603.5 1614.8L1613.8 1621.9L1624.2 1628.9L1634.6 1642.9L1644.9 1645.8L1655.3 1647.8L1665.6 1649.9L1676.0 1651.9L1686.4 1654.0L1696.7 1656.1L1707.1 1658.1L1717.5 1660.2L1727.8 1662.2L1738.2 1664.3L1748.6 1666.3L1758.9 1668.4L1769.3 1670.4L1779.7 1672.5L1790.0 1674.5L1800.4 1676.6L1810.8 1678.6L1821.1 1680.7L1831.5 1682.7L1841.9 1684.8L1852.2 1686.8L1862.6 1688.9L1872.9 1690.9L1883.3 1693.0L1893.7 1695.0L1904.0 1697.1L1914.4 1699.2L1924.8 1701.2L1935.1 1703.3L1945.5 1705.3" stroke="#c9d9ed"/>
<path d="M1530.9 1532.9L1541.3 1549.4L1551.6 1558.1L1562.0 1566.8L1572.4 1575.6L1582.7 1584.3L1593.1 1589.8L1603.5 1598.0L1613.8 1606.1L1624.2 1618.8L1634.6 1634.1L1644.9 1635.9L1655.3 1635.9L1665.6 1638.6L1676.0 1644.1L1686.4 1645.9L1696.7 1647.6L1707.1 1649.4L1717.5 1651.1L1727.8 1652.9L1738.2 1654.6L1748.6 1656.4L1758.9 1658.2L1769.3 1659.9L1779.7 1661.7L1790.0 1662.7L1800.4 1663.6L1810.8 1664.6L1821.1 1665.6L1831.5 1666.6L1841.9 1667.6L1852.2 1668.6L1862.6 1669.6L1872.9 1670.6L1883.3 1671.6L1893.7 1672.6L1904.0 1673.6L1914.4 1674.6L1924.8 1675.5L1935.1 1676.5L1945.5 1677.5" stroke="#a4c7dd"/>
<path d="M1530.9 1532.9L1541.3 1548.3L1551.6 1556.6L1562.0 1564.9L1572.4 1573.2L1582.7 1581.5L1593.1 1586.7L1603.5 1593.8L1613.8 1601.0L1624.2 1610.5L1634.6 1626.0L1644.9 1628.0L1655.3 1628.0L1665.6 1631.1L1676.0 1634.3L1686.4 1635.8L1696.7 1637.3L1707.1 1638.8L1717.5 1640.3L1727.8 1641.8L1738.2 1643.3L1748.6 1644.7L1758.9 1646.2L1769.3 1647.0L1779.7 1647.8L1790.0 1648.6L1800.4 1649.5L1810.8 1650.4L1821.1 1651.2L1831.5 1652.1L1841.9 1653.0L1852.2 1653.8L1862.6 1654.7L1872.9 1655.6L1883.3 1656.5L1893.7 1657.3L1904.0 1658.2L1914.4 1659.1L1924.8 1659.9L1935.1 1660.8L1945.5 1661.7" stroke="#74a6d2"/>
<path d="M1530.9 1532.9L1541.3 1548.3L1551.6 1556.8L1562.0 1565.3L1572.4 1573.8L1582.7 1582.3L1593.1 1587.9L1603.5 1595.6L1613.8 1603.3L1624.2 1615.8L1634.6 1629.8L1644.9 1631.9L1655.3 1631.9L1665.6 1634.8L1676.0 1637.7L1686.4 1639.3L1696.7 1640.9L1707.1 1642.6L1717.5 1644.2L1727.8 1645.8L1738.2 1647.4L1748.6 1649.0L1758.9 1650.6L1769.3 1652.1L1779.7 1653.7L1790.0 1654.7L1800.4 1655.7L1810.8 1656.7L1821.1 1657.7L1831.5 1658.7L1841.9 1659.7L1852.2 1660.7L1862.6 1661.7L1872.9 1662.7L1883.3 1663.6L1893.7 1664.6L1904.0 1665.6L1914.4 1666.6L1924.8 1667.6L1935.1 1668.6L1945.5 1669.6" stroke="#4079b6"/>
</g>
<text x="1624.7" y="1986.5" text-anchor="middle" class="tk">10</text>
<text x="1728.3" y="1986.5" text-anchor="middle" class="tk">20</text>
<text x="1832.0" y="1986.5" text-anchor="middle" class="tk">30</text>
<text x="1935.6" y="1986.5" text-anchor="middle" class="tk">40</text>
<path d="M2119.8 1487.2V1964.0" stroke="#ebebeb" stroke-width="2"/>
<path d="M2223.4 1487.2V1964.0" stroke="#ebebeb" stroke-width="2"/>
<path d="M2327.1 1487.2V1964.0" stroke="#ebebeb" stroke-width="2"/>
<path d="M2430.7 1487.2V1964.0" stroke="#ebebeb" stroke-width="2"/>
<path d="M2026.5 1526.8H2441.1" stroke="#ebebeb" stroke-width="2"/>
<path d="M2026.5 1606.1H2441.1" stroke="#ebebeb" stroke-width="2"/>
<path d="M2026.5 1685.5H2441.1" stroke="#ebebeb" stroke-width="2"/>
<path d="M2026.5 1764.8H2441.1" stroke="#ebebeb" stroke-width="2"/>
<path d="M2026.5 1844.2H2441.1" stroke="#ebebeb" stroke-width="2"/>
<path d="M2026.5 1923.5H2441.1" stroke="#cbcbcb" stroke-width="2"/>
<g clip-path="url(#c13)" fill="none" stroke-width="4" stroke-linejoin="round">
<path d="M2026.5 1535.7L2036.9 1549.8L2047.2 1558.5L2057.6 1567.2L2068.0 1574.4L2078.3 1584.3L2088.7 1589.0L2099.1 1596.2L2109.4 1603.3L2119.8 1610.5L2130.2 1628.0L2140.5 1630.3L2150.9 1629.9L2161.2 1632.5L2171.6 1635.1L2182.0 1636.6L2192.3 1638.1L2202.7 1639.6L2213.1 1641.1L2223.4 1642.6L2233.8 1644.6L2244.2 1647.0L2254.5 1649.4L2264.9 1650.8L2275.3 1652.1L2285.6 1653.2L2296.0 1654.2L2306.4 1655.3L2316.7 1656.3L2327.1 1657.3L2337.5 1658.4L2347.8 1659.4L2358.2 1660.5L2368.5 1661.5L2378.9 1662.6L2389.3 1663.6L2399.6 1664.6L2410.0 1665.7L2420.4 1666.7L2430.7 1667.8L2441.1 1668.8" stroke="#c9d9ed"/>
<path d="M2026.5 1534.9L2036.9 1549.0L2047.2 1557.7L2057.6 1566.4L2068.0 1573.6L2078.3 1583.5L2088.7 1588.3L2099.1 1595.4L2109.4 1602.5L2119.8 1609.7L2130.2 1627.2L2140.5 1629.5L2150.9 1629.1L2161.2 1631.7L2171.6 1634.3L2182.0 1635.8L2192.3 1637.3L2202.7 1638.8L2213.1 1640.3L2223.4 1641.8L2233.8 1643.8L2244.2 1646.2L2254.5 1648.6L2264.9 1650.0L2275.3 1651.3L2285.6 1652.4L2296.0 1653.4L2306.4 1654.5L2316.7 1655.5L2327.1 1656.6L2337.5 1657.6L2347.8 1658.6L2358.2 1659.7L2368.5 1660.7L2378.9 1661.8L2389.3 1662.8L2399.6 1663.8L2410.0 1664.9L2420.4 1665.9L2430.7 1667.0L2441.1 1668.0" stroke="#a4c7dd"/>
<path d="M2026.5 1534.1L2036.9 1548.2L2047.2 1556.9L2057.6 1565.6L2068.0 1572.8L2078.3 1582.7L2088.7 1587.5L2099.1 1594.6L2109.4 1601.7L2119.8 1608.9L2130.2 1626.4L2140.5 1628.7L2150.9 1628.3L2161.2 1630.9L2171.6 1633.5L2182.0 1635.0L2192.3 1636.5L2202.7 1638.0L2213.1 1639.5L2223.4 1641.0L2233.8 1643.0L2244.2 1645.4L2254.5 1647.8L2264.9 1649.2L2275.3 1650.6L2285.6 1651.6L2296.0 1652.6L2306.4 1653.7L2316.7 1654.7L2327.1 1655.8L2337.5 1656.8L2347.8 1657.8L2358.2 1658.9L2368.5 1659.9L2378.9 1661.0L2389.3 1662.0L2399.6 1663.1L2410.0 1664.1L2420.4 1665.1L2430.7 1666.2L2441.1 1667.2" stroke="#74a6d2"/>
<path d="M2026.5 1533.3L2036.9 1547.4L2047.2 1556.1L2057.6 1564.8L2068.0 1572.0L2078.3 1581.9L2088.7 1586.7L2099.1 1593.8L2109.4 1601.0L2119.8 1608.1L2130.2 1625.6L2140.5 1627.9L2150.9 1627.5L2161.2 1630.1L2171.6 1632.7L2182.0 1634.2L2192.3 1635.7L2202.7 1637.2L2213.1 1638.7L2223.4 1640.2L2233.8 1642.2L2244.2 1644.6L2254.5 1647.0L2264.9 1648.4L2275.3 1649.8L2285.6 1650.8L2296.0 1651.8L2306.4 1652.9L2316.7 1653.9L2327.1 1655.0L2337.5 1656.0L2347.8 1657.0L2358.2 1658.1L2368.5 1659.1L2378.9 1660.2L2389.3 1661.2L2399.6 1662.3L2410.0 1663.3L2420.4 1664.3L2430.7 1665.4L2441.1 1666.4" stroke="#4079b6"/>
<path d="M2026.5 1532.5L2036.9 1546.6L2047.2 1555.3L2057.6 1564.0L2068.0 1571.2L2078.3 1581.1L2088.7 1585.9L2099.1 1593.0L2109.4 1600.2L2119.8 1607.3L2130.2 1624.8L2140.5 1627.1L2150.9 1626.7L2161.2 1629.3L2171.6 1631.9L2182.0 1633.4L2192.3 1634.9L2202.7 1636.4L2213.1 1637.9L2223.4 1639.4L2233.8 1641.4L2244.2 1643.8L2254.5 1646.2L2264.9 1647.6L2275.3 1649.0L2285.6 1650.0L2296.0 1651.0L2306.4 1652.1L2316.7 1653.1L2327.1 1654.2L2337.5 1655.2L2347.8 1656.3L2358.2 1657.3L2368.5 1658.3L2378.9 1659.4L2389.3 1660.4L2399.6 1661.5L2410.0 1662.5L2420.4 1663.5L2430.7 1664.6L2441.1 1665.6" stroke="#214e98"/>
</g>
<text x="2120.3" y="1986.5" text-anchor="middle" class="tk">10</text>
<text x="2223.9" y="1986.5" text-anchor="middle" class="tk">20</text>
<text x="2327.6" y="1986.5" text-anchor="middle" class="tk">30</text>
<text x="2431.2" y="1986.5" text-anchor="middle" class="tk">40</text>
<path d="M2615.4 1487.2V1964.0" stroke="#ebebeb" stroke-width="2"/>
<path d="M2719.0 1487.2V1964.0" stroke="#ebebeb" stroke-width="2"/>
<path d="M2822.7 1487.2V1964.0" stroke="#ebebeb" stroke-width="2"/>
<path d="M2926.3 1487.2V1964.0" stroke="#ebebeb" stroke-width="2"/>
<path d="M2522.1 1526.8H2936.7" stroke="#ebebeb" stroke-width="2"/>
<path d="M2522.1 1606.1H2936.7" stroke="#ebebeb" stroke-width="2"/>
<path d="M2522.1 1685.5H2936.7" stroke="#ebebeb" stroke-width="2"/>
<path d="M2522.1 1764.8H2936.7" stroke="#ebebeb" stroke-width="2"/>
<path d="M2522.1 1844.2H2936.7" stroke="#ebebeb" stroke-width="2"/>
<path d="M2522.1 1923.5H2936.7" stroke="#cbcbcb" stroke-width="2"/>
<g clip-path="url(#c14)" fill="none" stroke-width="4" stroke-linejoin="round">
<path d="M2522.1 1534.1L2532.5 1549.8L2542.8 1558.7L2553.2 1567.6L2563.6 1576.5L2573.9 1585.5L2584.3 1590.6L2594.7 1599.0L2605.0 1607.3L2615.4 1615.6L2625.8 1632.7L2636.1 1634.0L2646.5 1634.0L2656.8 1637.5L2667.2 1641.0L2677.6 1642.8L2687.9 1644.6L2698.3 1646.2L2708.7 1647.8L2719.0 1649.4L2729.4 1650.6L2739.8 1651.8L2750.1 1653.0L2760.5 1654.3L2770.9 1655.5L2781.2 1656.7L2791.6 1658.0L2802.0 1659.2L2812.3 1660.4L2822.7 1661.6L2833.1 1662.9L2843.4 1664.1L2853.8 1665.3L2864.1 1666.6L2874.5 1667.8L2884.9 1669.0L2895.2 1670.2L2905.6 1671.5L2916.0 1672.7L2926.3 1673.9L2936.7 1675.2" stroke="#c9d9ed"/>
<path d="M2522.1 1532.5L2532.5 1548.2L2542.8 1557.1L2553.2 1566.0L2563.6 1575.0L2573.9 1583.9L2584.3 1589.0L2594.7 1597.4L2605.0 1605.7L2615.4 1614.0L2625.8 1631.1L2636.1 1632.4L2646.5 1632.4L2656.8 1635.9L2667.2 1639.4L2677.6 1641.2L2687.9 1643.0L2698.3 1644.6L2708.7 1646.2L2719.0 1647.8L2729.4 1649.0L2739.8 1650.2L2750.1 1651.5L2760.5 1652.7L2770.9 1653.9L2781.2 1655.1L2791.6 1656.4L2802.0 1657.6L2812.3 1658.8L2822.7 1660.1L2833.1 1661.3L2843.4 1662.5L2853.8 1663.7L2864.1 1665.0L2874.5 1666.2L2884.9 1667.4L2895.2 1668.7L2905.6 1669.9L2916.0 1671.1L2926.3 1672.3L2936.7 1673.6" stroke="#a4c7dd"/>
<path d="M2522.1 1533.3L2532.5 1548.2L2542.8 1556.7L2553.2 1565.2L2563.6 1573.8L2573.9 1582.3L2584.3 1587.5L2594.7 1595.4L2605.0 1603.3L2615.4 1611.3L2625.8 1626.7L2636.1 1627.9L2646.5 1627.9L2656.8 1631.4L2667.2 1634.9L2677.6 1635.9L2687.9 1640.6L2698.3 1642.2L2708.7 1643.8L2719.0 1645.4L2729.4 1647.2L2739.8 1649.0L2750.1 1650.9L2760.5 1652.7L2770.9 1654.5L2781.2 1655.5L2791.6 1656.5L2802.0 1657.5L2812.3 1658.5L2822.7 1659.5L2833.1 1660.5L2843.4 1661.5L2853.8 1662.5L2864.1 1663.4L2874.5 1664.4L2884.9 1665.4L2895.2 1666.4L2905.6 1667.4L2916.0 1668.4L2926.3 1669.4L2936.7 1670.4" stroke="#74a6d2"/>
<path d="M2522.1 1532.5L2532.5 1547.4L2542.8 1555.9L2553.2 1564.4L2563.6 1573.0L2573.9 1581.5L2584.3 1586.7L2594.7 1594.6L2605.0 1602.5L2615.4 1610.5L2625.8 1626.0L2636.1 1627.1L2646.5 1627.1L2656.8 1630.6L2667.2 1634.1L2677.6 1635.1L2687.9 1636.7L2698.3 1638.3L2708.7 1639.8L2719.0 1641.4L2729.4 1643.0L2739.8 1644.6L2750.1 1646.2L2760.5 1647.0L2770.9 1647.8L2781.2 1648.6L2791.6 1649.5L2802.0 1650.4L2812.3 1651.2L2822.7 1652.1L2833.1 1653.0L2843.4 1653.8L2853.8 1654.7L2864.1 1655.6L2874.5 1656.5L2884.9 1657.3L2895.2 1658.2L2905.6 1659.1L2916.0 1659.9L2926.3 1660.8L2936.7 1661.7" stroke="#4079b6"/>
<path d="M2522.1 1532.5L2532.5 1547.4L2542.8 1555.9L2553.2 1564.4L2563.6 1573.0L2573.9 1581.5L2584.3 1586.7L2594.7 1594.6L2605.0 1602.5L2615.4 1610.5L2625.8 1626.0L2636.1 1627.1L2646.5 1627.1L2656.8 1630.6L2667.2 1634.1L2677.6 1635.1L2687.9 1639.8L2698.3 1641.4L2708.7 1643.0L2719.0 1644.6L2729.4 1646.4L2739.8 1648.3L2750.1 1650.1L2760.5 1651.9L2770.9 1653.7L2781.2 1654.7L2791.6 1655.7L2802.0 1656.7L2812.3 1657.7L2822.7 1658.7L2833.1 1659.7L2843.4 1660.7L2853.8 1661.7L2864.1 1662.7L2874.5 1663.6L2884.9 1664.6L2895.2 1665.6L2905.6 1666.6L2916.0 1667.6L2926.3 1668.6L2936.7 1669.6" stroke="#214e98"/>
</g>
<text x="2615.9" y="1986.5" text-anchor="middle" class="tk">10</text>
<text x="2719.5" y="1986.5" text-anchor="middle" class="tk">20</text>
<text x="2823.2" y="1986.5" text-anchor="middle" class="tk">30</text>
<text x="2926.8" y="1986.5" text-anchor="middle" class="tk">40</text></svg>
</div>
</body>
</html>
